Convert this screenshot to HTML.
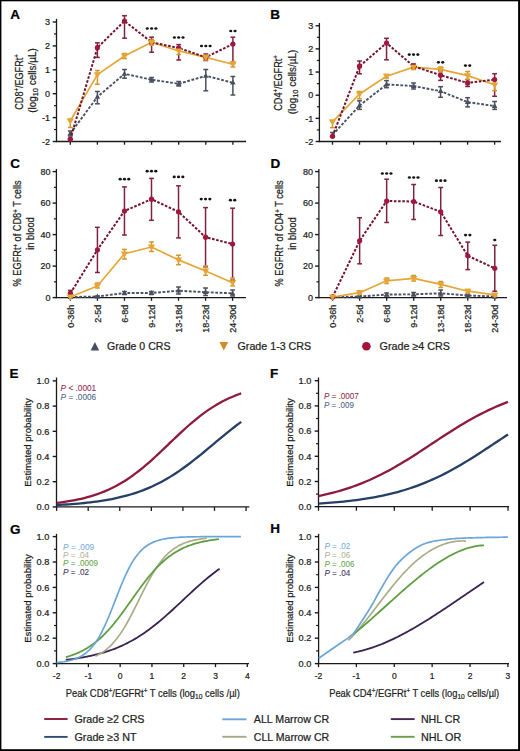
<!DOCTYPE html>
<html><head><meta charset="utf-8"><style>
html,body{margin:0;padding:0;background:#fff;width:520px;height:751px;overflow:hidden}
svg{display:block;font-family:"Liberation Sans",sans-serif}
text{stroke:currentColor;stroke-width:0.22px;paint-order:stroke}
</style></head><body>
<svg width="520" height="751" viewBox="0 0 520 751" font-family="Liberation Sans, sans-serif"><rect x="0" y="0" width="520" height="1.3" fill="#000"/><rect x="0" y="0" width="1.4" height="751" fill="#000"/><rect x="518.1" y="0" width="1.9" height="751" fill="#000"/><rect x="0" y="749.2" width="520" height="1.8" fill="#000"/>
<text x="10.30" y="18.80" font-size="13.5" text-anchor="start" fill="#000" color="#000" font-weight="bold">A</text>
<text x="270.30" y="18.80" font-size="13.5" text-anchor="start" fill="#000" color="#000" font-weight="bold">B</text>
<text x="10.30" y="168.00" font-size="13.5" text-anchor="start" fill="#000" color="#000" font-weight="bold">C</text>
<text x="270.60" y="167.60" font-size="13.5" text-anchor="start" fill="#000" color="#000" font-weight="bold">D</text>
<text x="9.40" y="377.60" font-size="13.5" text-anchor="start" fill="#000" color="#000" font-weight="bold">E</text>
<text x="270.00" y="377.60" font-size="13.5" text-anchor="start" fill="#000" color="#000" font-weight="bold">F</text>
<text x="10.00" y="533.60" font-size="13.5" text-anchor="start" fill="#000" color="#000" font-weight="bold">G</text>
<text x="270.30" y="533.40" font-size="13.5" text-anchor="start" fill="#000" color="#000" font-weight="bold">H</text>
<line x1="56.50" y1="18.80" x2="56.50" y2="142.10" stroke="#1a1a1a" stroke-width="1.3"/>
<line x1="55.90" y1="141.50" x2="246.00" y2="141.50" stroke="#1a1a1a" stroke-width="1.3"/>
<line x1="52.70" y1="141.50" x2="56.50" y2="141.50" stroke="#1a1a1a" stroke-width="1.4"/>
<line x1="52.70" y1="117.60" x2="56.50" y2="117.60" stroke="#1a1a1a" stroke-width="1.4"/>
<line x1="52.70" y1="93.70" x2="56.50" y2="93.70" stroke="#1a1a1a" stroke-width="1.4"/>
<line x1="52.70" y1="69.80" x2="56.50" y2="69.80" stroke="#1a1a1a" stroke-width="1.4"/>
<line x1="52.70" y1="45.90" x2="56.50" y2="45.90" stroke="#1a1a1a" stroke-width="1.4"/>
<line x1="52.70" y1="22.00" x2="56.50" y2="22.00" stroke="#1a1a1a" stroke-width="1.4"/>
<line x1="54.00" y1="129.55" x2="56.50" y2="129.55" stroke="#1a1a1a" stroke-width="1.2"/>
<line x1="54.00" y1="105.65" x2="56.50" y2="105.65" stroke="#1a1a1a" stroke-width="1.2"/>
<line x1="54.00" y1="81.75" x2="56.50" y2="81.75" stroke="#1a1a1a" stroke-width="1.2"/>
<line x1="54.00" y1="57.85" x2="56.50" y2="57.85" stroke="#1a1a1a" stroke-width="1.2"/>
<line x1="54.00" y1="33.95" x2="56.50" y2="33.95" stroke="#1a1a1a" stroke-width="1.2"/>
<line x1="70.30" y1="141.50" x2="70.30" y2="144.70" stroke="#1a1a1a" stroke-width="1.3"/>
<line x1="97.40" y1="141.50" x2="97.40" y2="144.70" stroke="#1a1a1a" stroke-width="1.3"/>
<line x1="124.50" y1="141.50" x2="124.50" y2="144.70" stroke="#1a1a1a" stroke-width="1.3"/>
<line x1="151.60" y1="141.50" x2="151.60" y2="144.70" stroke="#1a1a1a" stroke-width="1.3"/>
<line x1="178.70" y1="141.50" x2="178.70" y2="144.70" stroke="#1a1a1a" stroke-width="1.3"/>
<line x1="205.80" y1="141.50" x2="205.80" y2="144.70" stroke="#1a1a1a" stroke-width="1.3"/>
<line x1="232.90" y1="141.50" x2="232.90" y2="144.70" stroke="#1a1a1a" stroke-width="1.3"/>
<text x="50.10" y="144.90" font-size="9" text-anchor="end" fill="#1a1a1a" color="#1a1a1a">-2</text>
<text x="50.10" y="121.00" font-size="9" text-anchor="end" fill="#1a1a1a" color="#1a1a1a">-1</text>
<text x="50.10" y="97.10" font-size="9" text-anchor="end" fill="#1a1a1a" color="#1a1a1a">0</text>
<text x="50.10" y="73.20" font-size="9" text-anchor="end" fill="#1a1a1a" color="#1a1a1a">1</text>
<text x="50.10" y="49.30" font-size="9" text-anchor="end" fill="#1a1a1a" color="#1a1a1a">2</text>
<text x="50.10" y="25.40" font-size="9" text-anchor="end" fill="#1a1a1a" color="#1a1a1a">3</text>
<text x="22.50" y="82.00" font-size="10" text-anchor="middle" fill="#1a1a1a" color="#1a1a1a" textLength="55.5" lengthAdjust="spacingAndGlyphs" transform="rotate(-90 22.50 82.00)">CD8<tspan dy="-3.5" font-size="6.5">+</tspan><tspan dy="3.5">/EGFRt</tspan><tspan dy="-3.5" font-size="6.5">+</tspan></text>
<text x="35.90" y="80.50" font-size="10" text-anchor="middle" fill="#1a1a1a" color="#1a1a1a" textLength="64.5" lengthAdjust="spacingAndGlyphs" transform="rotate(-90 35.90 80.50)">(log<tspan dy="2.5" font-size="7.5">10</tspan><tspan dy="-2.5"> cells/µL)</tspan></text>
<line x1="70.30" y1="131.00" x2="70.30" y2="136.00" stroke="#4a4f5e" stroke-width="1.5"/>
<line x1="67.90" y1="131.00" x2="72.70" y2="131.00" stroke="#4a4f5e" stroke-width="1.5"/>
<line x1="67.90" y1="136.00" x2="72.70" y2="136.00" stroke="#4a4f5e" stroke-width="1.5"/>
<line x1="97.40" y1="91.50" x2="97.40" y2="103.80" stroke="#4a4f5e" stroke-width="1.5"/>
<line x1="95.00" y1="91.50" x2="99.80" y2="91.50" stroke="#4a4f5e" stroke-width="1.5"/>
<line x1="95.00" y1="103.80" x2="99.80" y2="103.80" stroke="#4a4f5e" stroke-width="1.5"/>
<line x1="124.50" y1="69.50" x2="124.50" y2="78.20" stroke="#4a4f5e" stroke-width="1.5"/>
<line x1="122.10" y1="69.50" x2="126.90" y2="69.50" stroke="#4a4f5e" stroke-width="1.5"/>
<line x1="122.10" y1="78.20" x2="126.90" y2="78.20" stroke="#4a4f5e" stroke-width="1.5"/>
<line x1="151.60" y1="77.50" x2="151.60" y2="82.00" stroke="#4a4f5e" stroke-width="1.5"/>
<line x1="149.20" y1="77.50" x2="154.00" y2="77.50" stroke="#4a4f5e" stroke-width="1.5"/>
<line x1="149.20" y1="82.00" x2="154.00" y2="82.00" stroke="#4a4f5e" stroke-width="1.5"/>
<line x1="178.70" y1="81.50" x2="178.70" y2="86.00" stroke="#4a4f5e" stroke-width="1.5"/>
<line x1="176.30" y1="81.50" x2="181.10" y2="81.50" stroke="#4a4f5e" stroke-width="1.5"/>
<line x1="176.30" y1="86.00" x2="181.10" y2="86.00" stroke="#4a4f5e" stroke-width="1.5"/>
<line x1="205.80" y1="69.50" x2="205.80" y2="90.80" stroke="#4a4f5e" stroke-width="1.5"/>
<line x1="203.40" y1="69.50" x2="208.20" y2="69.50" stroke="#4a4f5e" stroke-width="1.5"/>
<line x1="203.40" y1="90.80" x2="208.20" y2="90.80" stroke="#4a4f5e" stroke-width="1.5"/>
<line x1="232.90" y1="76.50" x2="232.90" y2="95.00" stroke="#4a4f5e" stroke-width="1.5"/>
<line x1="230.50" y1="76.50" x2="235.30" y2="76.50" stroke="#4a4f5e" stroke-width="1.5"/>
<line x1="230.50" y1="95.00" x2="235.30" y2="95.00" stroke="#4a4f5e" stroke-width="1.5"/>
<polyline points="70.30,133.50 97.40,96.90 124.50,73.80 151.60,79.70 178.70,83.80 205.80,75.80 232.90,82.70" fill="none" stroke="#4b5163" stroke-width="1.9" stroke-dasharray="2.8 1.6" stroke-linejoin="round"/>
<polygon points="67.50,135.42 73.10,135.42 70.30,130.62" fill="#4a4f5e"/>
<polygon points="94.60,98.82 100.20,98.82 97.40,94.02" fill="#4a4f5e"/>
<polygon points="121.70,75.72 127.30,75.72 124.50,70.92" fill="#4a4f5e"/>
<polygon points="148.80,81.62 154.40,81.62 151.60,76.82" fill="#4a4f5e"/>
<polygon points="175.90,85.72 181.50,85.72 178.70,80.92" fill="#4a4f5e"/>
<polygon points="203.00,77.72 208.60,77.72 205.80,72.92" fill="#4a4f5e"/>
<polygon points="230.10,84.62 235.70,84.62 232.90,79.82" fill="#4a4f5e"/>
<line x1="70.30" y1="139.00" x2="70.30" y2="139.20" stroke="#7f2142" stroke-width="1.5"/>
<line x1="67.90" y1="139.00" x2="72.70" y2="139.00" stroke="#7f2142" stroke-width="1.5"/>
<line x1="67.90" y1="139.20" x2="72.70" y2="139.20" stroke="#7f2142" stroke-width="1.5"/>
<line x1="97.40" y1="42.80" x2="97.40" y2="57.40" stroke="#7f2142" stroke-width="1.5"/>
<line x1="95.00" y1="42.80" x2="99.80" y2="42.80" stroke="#7f2142" stroke-width="1.5"/>
<line x1="95.00" y1="57.40" x2="99.80" y2="57.40" stroke="#7f2142" stroke-width="1.5"/>
<line x1="124.50" y1="15.70" x2="124.50" y2="38.20" stroke="#7f2142" stroke-width="1.5"/>
<line x1="122.10" y1="15.70" x2="126.90" y2="15.70" stroke="#7f2142" stroke-width="1.5"/>
<line x1="122.10" y1="38.20" x2="126.90" y2="38.20" stroke="#7f2142" stroke-width="1.5"/>
<line x1="151.60" y1="37.20" x2="151.60" y2="52.20" stroke="#7f2142" stroke-width="1.5"/>
<line x1="149.20" y1="37.20" x2="154.00" y2="37.20" stroke="#7f2142" stroke-width="1.5"/>
<line x1="149.20" y1="52.20" x2="154.00" y2="52.20" stroke="#7f2142" stroke-width="1.5"/>
<line x1="178.70" y1="44.60" x2="178.70" y2="60.00" stroke="#7f2142" stroke-width="1.5"/>
<line x1="176.30" y1="44.60" x2="181.10" y2="44.60" stroke="#7f2142" stroke-width="1.5"/>
<line x1="176.30" y1="60.00" x2="181.10" y2="60.00" stroke="#7f2142" stroke-width="1.5"/>
<line x1="205.80" y1="54.00" x2="205.80" y2="60.50" stroke="#7f2142" stroke-width="1.5"/>
<line x1="203.40" y1="54.00" x2="208.20" y2="54.00" stroke="#7f2142" stroke-width="1.5"/>
<line x1="203.40" y1="60.50" x2="208.20" y2="60.50" stroke="#7f2142" stroke-width="1.5"/>
<line x1="232.90" y1="37.20" x2="232.90" y2="63.50" stroke="#7f2142" stroke-width="1.5"/>
<line x1="230.50" y1="37.20" x2="235.30" y2="37.20" stroke="#7f2142" stroke-width="1.5"/>
<line x1="230.50" y1="63.50" x2="235.30" y2="63.50" stroke="#7f2142" stroke-width="1.5"/>
<line x1="70.30" y1="119.20" x2="70.30" y2="127.50" stroke="#d0962e" stroke-width="1.5"/>
<line x1="67.90" y1="119.20" x2="72.70" y2="119.20" stroke="#d0962e" stroke-width="1.5"/>
<line x1="67.90" y1="127.50" x2="72.70" y2="127.50" stroke="#d0962e" stroke-width="1.5"/>
<line x1="97.40" y1="70.50" x2="97.40" y2="84.30" stroke="#d0962e" stroke-width="1.5"/>
<line x1="95.00" y1="70.50" x2="99.80" y2="70.50" stroke="#d0962e" stroke-width="1.5"/>
<line x1="95.00" y1="84.30" x2="99.80" y2="84.30" stroke="#d0962e" stroke-width="1.5"/>
<line x1="124.50" y1="53.50" x2="124.50" y2="58.50" stroke="#d0962e" stroke-width="1.5"/>
<line x1="122.10" y1="53.50" x2="126.90" y2="53.50" stroke="#d0962e" stroke-width="1.5"/>
<line x1="122.10" y1="58.50" x2="126.90" y2="58.50" stroke="#d0962e" stroke-width="1.5"/>
<line x1="151.60" y1="39.50" x2="151.60" y2="45.00" stroke="#d0962e" stroke-width="1.5"/>
<line x1="149.20" y1="39.50" x2="154.00" y2="39.50" stroke="#d0962e" stroke-width="1.5"/>
<line x1="149.20" y1="45.00" x2="154.00" y2="45.00" stroke="#d0962e" stroke-width="1.5"/>
<line x1="178.70" y1="47.50" x2="178.70" y2="54.50" stroke="#d0962e" stroke-width="1.5"/>
<line x1="176.30" y1="47.50" x2="181.10" y2="47.50" stroke="#d0962e" stroke-width="1.5"/>
<line x1="176.30" y1="54.50" x2="181.10" y2="54.50" stroke="#d0962e" stroke-width="1.5"/>
<line x1="205.80" y1="55.00" x2="205.80" y2="60.00" stroke="#d0962e" stroke-width="1.5"/>
<line x1="203.40" y1="55.00" x2="208.20" y2="55.00" stroke="#d0962e" stroke-width="1.5"/>
<line x1="203.40" y1="60.00" x2="208.20" y2="60.00" stroke="#d0962e" stroke-width="1.5"/>
<line x1="232.90" y1="61.50" x2="232.90" y2="67.00" stroke="#d0962e" stroke-width="1.5"/>
<line x1="230.50" y1="61.50" x2="235.30" y2="61.50" stroke="#d0962e" stroke-width="1.5"/>
<line x1="230.50" y1="67.00" x2="235.30" y2="67.00" stroke="#d0962e" stroke-width="1.5"/>
<polyline points="70.30,120.80 97.40,74.60 124.50,56.00 151.60,42.30 178.70,51.00 205.80,57.30 232.90,64.20" fill="none" stroke="#e6a636" stroke-width="1.7" stroke-linejoin="round"/>
<polyline points="70.30,139.20 97.40,47.70 124.50,21.00 151.60,42.30 178.70,48.00 205.80,57.30 232.90,44.00" fill="none" stroke="#741232" stroke-width="2.0" stroke-dasharray="2.6 1.6" stroke-linejoin="round"/>
<circle cx="70.30" cy="139.20" r="2.60" fill="#a0163c"/>
<circle cx="97.40" cy="47.70" r="2.60" fill="#a0163c"/>
<circle cx="124.50" cy="21.00" r="2.60" fill="#a0163c"/>
<circle cx="151.60" cy="42.30" r="2.60" fill="#a0163c"/>
<circle cx="178.70" cy="48.00" r="2.60" fill="#a0163c"/>
<circle cx="205.80" cy="57.30" r="2.60" fill="#a0163c"/>
<circle cx="232.90" cy="44.00" r="2.60" fill="#a0163c"/>
<polygon points="66.60,118.40 74.00,118.40 70.30,124.40" fill="#e6a636"/>
<polygon points="93.70,72.20 101.10,72.20 97.40,78.20" fill="#e6a636"/>
<polygon points="120.80,53.60 128.20,53.60 124.50,59.60" fill="#e6a636"/>
<polygon points="147.90,39.90 155.30,39.90 151.60,45.90" fill="#e6a636"/>
<polygon points="175.00,48.60 182.40,48.60 178.70,54.60" fill="#e6a636"/>
<polygon points="202.10,54.90 209.50,54.90 205.80,60.90" fill="#e6a636"/>
<polygon points="229.20,61.80 236.60,61.80 232.90,67.80" fill="#e6a636"/>
<ellipse cx="147.30" cy="28.50" rx="1.6" ry="1.35" fill="#141414"/>
<ellipse cx="151.60" cy="28.50" rx="1.6" ry="1.35" fill="#141414"/>
<ellipse cx="155.90" cy="28.50" rx="1.6" ry="1.35" fill="#141414"/>
<ellipse cx="174.40" cy="37.50" rx="1.6" ry="1.35" fill="#141414"/>
<ellipse cx="178.70" cy="37.50" rx="1.6" ry="1.35" fill="#141414"/>
<ellipse cx="183.00" cy="37.50" rx="1.6" ry="1.35" fill="#141414"/>
<ellipse cx="201.50" cy="46.00" rx="1.6" ry="1.35" fill="#141414"/>
<ellipse cx="205.80" cy="46.00" rx="1.6" ry="1.35" fill="#141414"/>
<ellipse cx="210.10" cy="46.00" rx="1.6" ry="1.35" fill="#141414"/>
<ellipse cx="230.75" cy="31.00" rx="1.6" ry="1.35" fill="#141414"/>
<ellipse cx="235.05" cy="31.00" rx="1.6" ry="1.35" fill="#141414"/>
<line x1="319.40" y1="23.00" x2="319.40" y2="142.10" stroke="#1a1a1a" stroke-width="1.3"/>
<line x1="318.80" y1="141.50" x2="501.00" y2="141.50" stroke="#1a1a1a" stroke-width="1.3"/>
<line x1="315.60" y1="141.50" x2="319.40" y2="141.50" stroke="#1a1a1a" stroke-width="1.4"/>
<line x1="315.60" y1="118.35" x2="319.40" y2="118.35" stroke="#1a1a1a" stroke-width="1.4"/>
<line x1="315.60" y1="95.20" x2="319.40" y2="95.20" stroke="#1a1a1a" stroke-width="1.4"/>
<line x1="315.60" y1="72.05" x2="319.40" y2="72.05" stroke="#1a1a1a" stroke-width="1.4"/>
<line x1="315.60" y1="48.90" x2="319.40" y2="48.90" stroke="#1a1a1a" stroke-width="1.4"/>
<line x1="315.60" y1="25.75" x2="319.40" y2="25.75" stroke="#1a1a1a" stroke-width="1.4"/>
<line x1="316.90" y1="129.93" x2="319.40" y2="129.93" stroke="#1a1a1a" stroke-width="1.2"/>
<line x1="316.90" y1="106.78" x2="319.40" y2="106.78" stroke="#1a1a1a" stroke-width="1.2"/>
<line x1="316.90" y1="83.62" x2="319.40" y2="83.62" stroke="#1a1a1a" stroke-width="1.2"/>
<line x1="316.90" y1="60.48" x2="319.40" y2="60.48" stroke="#1a1a1a" stroke-width="1.2"/>
<line x1="316.90" y1="37.33" x2="319.40" y2="37.33" stroke="#1a1a1a" stroke-width="1.2"/>
<line x1="332.50" y1="141.50" x2="332.50" y2="144.70" stroke="#1a1a1a" stroke-width="1.3"/>
<line x1="359.52" y1="141.50" x2="359.52" y2="144.70" stroke="#1a1a1a" stroke-width="1.3"/>
<line x1="386.54" y1="141.50" x2="386.54" y2="144.70" stroke="#1a1a1a" stroke-width="1.3"/>
<line x1="413.56" y1="141.50" x2="413.56" y2="144.70" stroke="#1a1a1a" stroke-width="1.3"/>
<line x1="440.58" y1="141.50" x2="440.58" y2="144.70" stroke="#1a1a1a" stroke-width="1.3"/>
<line x1="467.60" y1="141.50" x2="467.60" y2="144.70" stroke="#1a1a1a" stroke-width="1.3"/>
<line x1="494.62" y1="141.50" x2="494.62" y2="144.70" stroke="#1a1a1a" stroke-width="1.3"/>
<text x="313.30" y="144.70" font-size="9" text-anchor="end" fill="#1a1a1a" color="#1a1a1a">-2</text>
<text x="313.30" y="121.55" font-size="9" text-anchor="end" fill="#1a1a1a" color="#1a1a1a">-1</text>
<text x="313.30" y="98.40" font-size="9" text-anchor="end" fill="#1a1a1a" color="#1a1a1a">0</text>
<text x="313.30" y="75.25" font-size="9" text-anchor="end" fill="#1a1a1a" color="#1a1a1a">1</text>
<text x="313.30" y="52.10" font-size="9" text-anchor="end" fill="#1a1a1a" color="#1a1a1a">2</text>
<text x="313.30" y="28.95" font-size="9" text-anchor="end" fill="#1a1a1a" color="#1a1a1a">3</text>
<text x="281.80" y="83.00" font-size="10" text-anchor="middle" fill="#1a1a1a" color="#1a1a1a" textLength="55.5" lengthAdjust="spacingAndGlyphs" transform="rotate(-90 281.80 83.00)">CD4<tspan dy="-3.5" font-size="6.5">+</tspan><tspan dy="3.5">/EGFRt</tspan><tspan dy="-3.5" font-size="6.5">+</tspan></text>
<text x="295.50" y="82.00" font-size="10" text-anchor="middle" fill="#1a1a1a" color="#1a1a1a" textLength="64.5" lengthAdjust="spacingAndGlyphs" transform="rotate(-90 295.50 82.00)">(log<tspan dy="2.5" font-size="7.5">10</tspan><tspan dy="-2.5"> cells/µL)</tspan></text>
<line x1="332.50" y1="132.50" x2="332.50" y2="137.00" stroke="#4a4f5e" stroke-width="1.5"/>
<line x1="330.10" y1="132.50" x2="334.90" y2="132.50" stroke="#4a4f5e" stroke-width="1.5"/>
<line x1="330.10" y1="137.00" x2="334.90" y2="137.00" stroke="#4a4f5e" stroke-width="1.5"/>
<line x1="359.52" y1="100.80" x2="359.52" y2="109.40" stroke="#4a4f5e" stroke-width="1.5"/>
<line x1="357.12" y1="100.80" x2="361.92" y2="100.80" stroke="#4a4f5e" stroke-width="1.5"/>
<line x1="357.12" y1="109.40" x2="361.92" y2="109.40" stroke="#4a4f5e" stroke-width="1.5"/>
<line x1="386.54" y1="80.60" x2="386.54" y2="87.70" stroke="#4a4f5e" stroke-width="1.5"/>
<line x1="384.14" y1="80.60" x2="388.94" y2="80.60" stroke="#4a4f5e" stroke-width="1.5"/>
<line x1="384.14" y1="87.70" x2="388.94" y2="87.70" stroke="#4a4f5e" stroke-width="1.5"/>
<line x1="413.56" y1="83.00" x2="413.56" y2="89.00" stroke="#4a4f5e" stroke-width="1.5"/>
<line x1="411.16" y1="83.00" x2="415.96" y2="83.00" stroke="#4a4f5e" stroke-width="1.5"/>
<line x1="411.16" y1="89.00" x2="415.96" y2="89.00" stroke="#4a4f5e" stroke-width="1.5"/>
<line x1="440.58" y1="86.70" x2="440.58" y2="97.30" stroke="#4a4f5e" stroke-width="1.5"/>
<line x1="438.18" y1="86.70" x2="442.98" y2="86.70" stroke="#4a4f5e" stroke-width="1.5"/>
<line x1="438.18" y1="97.30" x2="442.98" y2="97.30" stroke="#4a4f5e" stroke-width="1.5"/>
<line x1="467.60" y1="97.70" x2="467.60" y2="106.90" stroke="#4a4f5e" stroke-width="1.5"/>
<line x1="465.20" y1="97.70" x2="470.00" y2="97.70" stroke="#4a4f5e" stroke-width="1.5"/>
<line x1="465.20" y1="106.90" x2="470.00" y2="106.90" stroke="#4a4f5e" stroke-width="1.5"/>
<line x1="494.62" y1="101.50" x2="494.62" y2="109.40" stroke="#4a4f5e" stroke-width="1.5"/>
<line x1="492.22" y1="101.50" x2="497.02" y2="101.50" stroke="#4a4f5e" stroke-width="1.5"/>
<line x1="492.22" y1="109.40" x2="497.02" y2="109.40" stroke="#4a4f5e" stroke-width="1.5"/>
<polyline points="332.50,134.80 359.52,105.60 386.54,84.40 413.56,86.00 440.58,91.20 467.60,102.10 494.62,106.00" fill="none" stroke="#4b5163" stroke-width="1.9" stroke-dasharray="2.8 1.6" stroke-linejoin="round"/>
<polygon points="329.70,136.72 335.30,136.72 332.50,131.92" fill="#4a4f5e"/>
<polygon points="356.72,107.52 362.32,107.52 359.52,102.72" fill="#4a4f5e"/>
<polygon points="383.74,86.32 389.34,86.32 386.54,81.52" fill="#4a4f5e"/>
<polygon points="410.76,87.92 416.36,87.92 413.56,83.12" fill="#4a4f5e"/>
<polygon points="437.78,93.12 443.38,93.12 440.58,88.32" fill="#4a4f5e"/>
<polygon points="464.80,104.02 470.40,104.02 467.60,99.22" fill="#4a4f5e"/>
<polygon points="491.82,107.92 497.42,107.92 494.62,103.12" fill="#4a4f5e"/>
<line x1="332.50" y1="136.00" x2="332.50" y2="136.30" stroke="#7f2142" stroke-width="1.5"/>
<line x1="330.10" y1="136.00" x2="334.90" y2="136.00" stroke="#7f2142" stroke-width="1.5"/>
<line x1="330.10" y1="136.30" x2="334.90" y2="136.30" stroke="#7f2142" stroke-width="1.5"/>
<line x1="359.52" y1="61.00" x2="359.52" y2="73.80" stroke="#7f2142" stroke-width="1.5"/>
<line x1="357.12" y1="61.00" x2="361.92" y2="61.00" stroke="#7f2142" stroke-width="1.5"/>
<line x1="357.12" y1="73.80" x2="361.92" y2="73.80" stroke="#7f2142" stroke-width="1.5"/>
<line x1="386.54" y1="38.30" x2="386.54" y2="59.80" stroke="#7f2142" stroke-width="1.5"/>
<line x1="384.14" y1="38.30" x2="388.94" y2="38.30" stroke="#7f2142" stroke-width="1.5"/>
<line x1="384.14" y1="59.80" x2="388.94" y2="59.80" stroke="#7f2142" stroke-width="1.5"/>
<line x1="413.56" y1="64.00" x2="413.56" y2="68.50" stroke="#7f2142" stroke-width="1.5"/>
<line x1="411.16" y1="64.00" x2="415.96" y2="64.00" stroke="#7f2142" stroke-width="1.5"/>
<line x1="411.16" y1="68.50" x2="415.96" y2="68.50" stroke="#7f2142" stroke-width="1.5"/>
<line x1="440.58" y1="70.80" x2="440.58" y2="80.40" stroke="#7f2142" stroke-width="1.5"/>
<line x1="438.18" y1="70.80" x2="442.98" y2="70.80" stroke="#7f2142" stroke-width="1.5"/>
<line x1="438.18" y1="80.40" x2="442.98" y2="80.40" stroke="#7f2142" stroke-width="1.5"/>
<line x1="467.60" y1="79.50" x2="467.60" y2="86.50" stroke="#7f2142" stroke-width="1.5"/>
<line x1="465.20" y1="79.50" x2="470.00" y2="79.50" stroke="#7f2142" stroke-width="1.5"/>
<line x1="465.20" y1="86.50" x2="470.00" y2="86.50" stroke="#7f2142" stroke-width="1.5"/>
<line x1="494.62" y1="73.70" x2="494.62" y2="96.30" stroke="#7f2142" stroke-width="1.5"/>
<line x1="492.22" y1="73.70" x2="497.02" y2="73.70" stroke="#7f2142" stroke-width="1.5"/>
<line x1="492.22" y1="96.30" x2="497.02" y2="96.30" stroke="#7f2142" stroke-width="1.5"/>
<line x1="332.50" y1="120.40" x2="332.50" y2="127.70" stroke="#d0962e" stroke-width="1.5"/>
<line x1="330.10" y1="120.40" x2="334.90" y2="120.40" stroke="#d0962e" stroke-width="1.5"/>
<line x1="330.10" y1="127.70" x2="334.90" y2="127.70" stroke="#d0962e" stroke-width="1.5"/>
<line x1="359.52" y1="91.50" x2="359.52" y2="98.80" stroke="#d0962e" stroke-width="1.5"/>
<line x1="357.12" y1="91.50" x2="361.92" y2="91.50" stroke="#d0962e" stroke-width="1.5"/>
<line x1="357.12" y1="98.80" x2="361.92" y2="98.80" stroke="#d0962e" stroke-width="1.5"/>
<line x1="386.54" y1="74.50" x2="386.54" y2="78.00" stroke="#d0962e" stroke-width="1.5"/>
<line x1="384.14" y1="74.50" x2="388.94" y2="74.50" stroke="#d0962e" stroke-width="1.5"/>
<line x1="384.14" y1="78.00" x2="388.94" y2="78.00" stroke="#d0962e" stroke-width="1.5"/>
<line x1="413.56" y1="65.00" x2="413.56" y2="69.50" stroke="#d0962e" stroke-width="1.5"/>
<line x1="411.16" y1="65.00" x2="415.96" y2="65.00" stroke="#d0962e" stroke-width="1.5"/>
<line x1="411.16" y1="69.50" x2="415.96" y2="69.50" stroke="#d0962e" stroke-width="1.5"/>
<line x1="440.58" y1="67.00" x2="440.58" y2="72.00" stroke="#d0962e" stroke-width="1.5"/>
<line x1="438.18" y1="67.00" x2="442.98" y2="67.00" stroke="#d0962e" stroke-width="1.5"/>
<line x1="438.18" y1="72.00" x2="442.98" y2="72.00" stroke="#d0962e" stroke-width="1.5"/>
<line x1="467.60" y1="71.50" x2="467.60" y2="79.50" stroke="#d0962e" stroke-width="1.5"/>
<line x1="465.20" y1="71.50" x2="470.00" y2="71.50" stroke="#d0962e" stroke-width="1.5"/>
<line x1="465.20" y1="79.50" x2="470.00" y2="79.50" stroke="#d0962e" stroke-width="1.5"/>
<line x1="494.62" y1="80.00" x2="494.62" y2="90.60" stroke="#d0962e" stroke-width="1.5"/>
<line x1="492.22" y1="80.00" x2="497.02" y2="80.00" stroke="#d0962e" stroke-width="1.5"/>
<line x1="492.22" y1="90.60" x2="497.02" y2="90.60" stroke="#d0962e" stroke-width="1.5"/>
<polyline points="332.50,121.90 359.52,94.00 386.54,76.20 413.56,67.10 440.58,69.40 467.60,75.60 494.62,84.80" fill="none" stroke="#e6a636" stroke-width="1.7" stroke-linejoin="round"/>
<polyline points="332.50,136.30 359.52,66.20 386.54,43.00 413.56,66.20 440.58,75.20 467.60,82.90 494.62,79.60" fill="none" stroke="#741232" stroke-width="2.0" stroke-dasharray="2.6 1.6" stroke-linejoin="round"/>
<circle cx="332.50" cy="136.30" r="2.60" fill="#a0163c"/>
<circle cx="359.52" cy="66.20" r="2.60" fill="#a0163c"/>
<circle cx="386.54" cy="43.00" r="2.60" fill="#a0163c"/>
<circle cx="413.56" cy="66.20" r="2.60" fill="#a0163c"/>
<circle cx="440.58" cy="75.20" r="2.60" fill="#a0163c"/>
<circle cx="467.60" cy="82.90" r="2.60" fill="#a0163c"/>
<circle cx="494.62" cy="79.60" r="2.60" fill="#a0163c"/>
<polygon points="328.80,119.50 336.20,119.50 332.50,125.50" fill="#e6a636"/>
<polygon points="355.82,91.60 363.22,91.60 359.52,97.60" fill="#e6a636"/>
<polygon points="382.84,73.80 390.24,73.80 386.54,79.80" fill="#e6a636"/>
<polygon points="409.86,64.70 417.26,64.70 413.56,70.70" fill="#e6a636"/>
<polygon points="436.88,67.00 444.28,67.00 440.58,73.00" fill="#e6a636"/>
<polygon points="463.90,73.20 471.30,73.20 467.60,79.20" fill="#e6a636"/>
<polygon points="490.92,82.40 498.32,82.40 494.62,88.40" fill="#e6a636"/>
<ellipse cx="409.26" cy="54.60" rx="1.6" ry="1.35" fill="#141414"/>
<ellipse cx="413.56" cy="54.60" rx="1.6" ry="1.35" fill="#141414"/>
<ellipse cx="417.86" cy="54.60" rx="1.6" ry="1.35" fill="#141414"/>
<ellipse cx="438.43" cy="62.30" rx="1.6" ry="1.35" fill="#141414"/>
<ellipse cx="442.73" cy="62.30" rx="1.6" ry="1.35" fill="#141414"/>
<ellipse cx="465.45" cy="65.60" rx="1.6" ry="1.35" fill="#141414"/>
<ellipse cx="469.75" cy="65.60" rx="1.6" ry="1.35" fill="#141414"/>
<line x1="56.40" y1="169.00" x2="56.40" y2="298.20" stroke="#1a1a1a" stroke-width="1.3"/>
<line x1="55.80" y1="297.60" x2="246.00" y2="297.60" stroke="#1a1a1a" stroke-width="1.3"/>
<line x1="52.60" y1="297.60" x2="56.40" y2="297.60" stroke="#1a1a1a" stroke-width="1.4"/>
<line x1="52.60" y1="266.10" x2="56.40" y2="266.10" stroke="#1a1a1a" stroke-width="1.4"/>
<line x1="52.60" y1="234.60" x2="56.40" y2="234.60" stroke="#1a1a1a" stroke-width="1.4"/>
<line x1="52.60" y1="203.10" x2="56.40" y2="203.10" stroke="#1a1a1a" stroke-width="1.4"/>
<line x1="52.60" y1="171.60" x2="56.40" y2="171.60" stroke="#1a1a1a" stroke-width="1.4"/>
<line x1="53.90" y1="281.85" x2="56.40" y2="281.85" stroke="#1a1a1a" stroke-width="1.2"/>
<line x1="53.90" y1="250.35" x2="56.40" y2="250.35" stroke="#1a1a1a" stroke-width="1.2"/>
<line x1="53.90" y1="218.85" x2="56.40" y2="218.85" stroke="#1a1a1a" stroke-width="1.2"/>
<line x1="53.90" y1="187.35" x2="56.40" y2="187.35" stroke="#1a1a1a" stroke-width="1.2"/>
<line x1="70.40" y1="297.60" x2="70.40" y2="300.80" stroke="#1a1a1a" stroke-width="1.3"/>
<line x1="97.43" y1="297.60" x2="97.43" y2="300.80" stroke="#1a1a1a" stroke-width="1.3"/>
<line x1="124.46" y1="297.60" x2="124.46" y2="300.80" stroke="#1a1a1a" stroke-width="1.3"/>
<line x1="151.49" y1="297.60" x2="151.49" y2="300.80" stroke="#1a1a1a" stroke-width="1.3"/>
<line x1="178.52" y1="297.60" x2="178.52" y2="300.80" stroke="#1a1a1a" stroke-width="1.3"/>
<line x1="205.55" y1="297.60" x2="205.55" y2="300.80" stroke="#1a1a1a" stroke-width="1.3"/>
<line x1="232.58" y1="297.60" x2="232.58" y2="300.80" stroke="#1a1a1a" stroke-width="1.3"/>
<text x="50.40" y="300.80" font-size="9" text-anchor="end" fill="#1a1a1a" color="#1a1a1a">0</text>
<text x="50.40" y="269.30" font-size="9" text-anchor="end" fill="#1a1a1a" color="#1a1a1a">20</text>
<text x="50.40" y="237.80" font-size="9" text-anchor="end" fill="#1a1a1a" color="#1a1a1a">40</text>
<text x="50.40" y="206.30" font-size="9" text-anchor="end" fill="#1a1a1a" color="#1a1a1a">60</text>
<text x="50.40" y="174.80" font-size="9" text-anchor="end" fill="#1a1a1a" color="#1a1a1a">80</text>
<text x="21.20" y="233.40" font-size="10" text-anchor="middle" fill="#1a1a1a" color="#1a1a1a" textLength="106" lengthAdjust="spacingAndGlyphs" transform="rotate(-90 21.20 233.40)">% EGFRt<tspan dy="-3.5" font-size="6.5">+</tspan><tspan dy="3.5"> of CD8</tspan><tspan dy="-3.5" font-size="6.5">+</tspan><tspan dy="3.5"> T cells</tspan></text>
<text x="33.80" y="233.50" font-size="10" text-anchor="middle" fill="#1a1a1a" color="#1a1a1a" textLength="32.5" lengthAdjust="spacingAndGlyphs" transform="rotate(-90 33.80 233.50)">in blood</text>
<line x1="70.40" y1="297.00" x2="70.40" y2="297.00" stroke="#4a4f5e" stroke-width="1.5"/>
<line x1="68.00" y1="297.00" x2="72.80" y2="297.00" stroke="#4a4f5e" stroke-width="1.5"/>
<line x1="68.00" y1="297.00" x2="72.80" y2="297.00" stroke="#4a4f5e" stroke-width="1.5"/>
<line x1="97.43" y1="296.00" x2="97.43" y2="297.00" stroke="#4a4f5e" stroke-width="1.5"/>
<line x1="95.03" y1="296.00" x2="99.83" y2="296.00" stroke="#4a4f5e" stroke-width="1.5"/>
<line x1="95.03" y1="297.00" x2="99.83" y2="297.00" stroke="#4a4f5e" stroke-width="1.5"/>
<line x1="124.46" y1="291.50" x2="124.46" y2="294.50" stroke="#4a4f5e" stroke-width="1.5"/>
<line x1="122.06" y1="291.50" x2="126.86" y2="291.50" stroke="#4a4f5e" stroke-width="1.5"/>
<line x1="122.06" y1="294.50" x2="126.86" y2="294.50" stroke="#4a4f5e" stroke-width="1.5"/>
<line x1="151.49" y1="291.50" x2="151.49" y2="294.50" stroke="#4a4f5e" stroke-width="1.5"/>
<line x1="149.09" y1="291.50" x2="153.89" y2="291.50" stroke="#4a4f5e" stroke-width="1.5"/>
<line x1="149.09" y1="294.50" x2="153.89" y2="294.50" stroke="#4a4f5e" stroke-width="1.5"/>
<line x1="178.52" y1="287.00" x2="178.52" y2="294.00" stroke="#4a4f5e" stroke-width="1.5"/>
<line x1="176.12" y1="287.00" x2="180.92" y2="287.00" stroke="#4a4f5e" stroke-width="1.5"/>
<line x1="176.12" y1="294.00" x2="180.92" y2="294.00" stroke="#4a4f5e" stroke-width="1.5"/>
<line x1="205.55" y1="288.00" x2="205.55" y2="295.50" stroke="#4a4f5e" stroke-width="1.5"/>
<line x1="203.15" y1="288.00" x2="207.95" y2="288.00" stroke="#4a4f5e" stroke-width="1.5"/>
<line x1="203.15" y1="295.50" x2="207.95" y2="295.50" stroke="#4a4f5e" stroke-width="1.5"/>
<line x1="232.58" y1="290.00" x2="232.58" y2="296.00" stroke="#4a4f5e" stroke-width="1.5"/>
<line x1="230.18" y1="290.00" x2="234.98" y2="290.00" stroke="#4a4f5e" stroke-width="1.5"/>
<line x1="230.18" y1="296.00" x2="234.98" y2="296.00" stroke="#4a4f5e" stroke-width="1.5"/>
<polyline points="70.40,297.00 97.43,296.50 124.46,293.00 151.49,293.00 178.52,290.70 205.55,292.20 232.58,293.30" fill="none" stroke="#4b5163" stroke-width="1.9" stroke-dasharray="2.8 1.6" stroke-linejoin="round"/>
<polygon points="67.60,298.92 73.20,298.92 70.40,294.12" fill="#4a4f5e"/>
<polygon points="94.63,298.42 100.23,298.42 97.43,293.62" fill="#4a4f5e"/>
<polygon points="121.66,294.92 127.26,294.92 124.46,290.12" fill="#4a4f5e"/>
<polygon points="148.69,294.92 154.29,294.92 151.49,290.12" fill="#4a4f5e"/>
<polygon points="175.72,292.62 181.32,292.62 178.52,287.82" fill="#4a4f5e"/>
<polygon points="202.75,294.12 208.35,294.12 205.55,289.32" fill="#4a4f5e"/>
<polygon points="229.78,295.22 235.38,295.22 232.58,290.42" fill="#4a4f5e"/>
<line x1="70.40" y1="290.40" x2="70.40" y2="296.00" stroke="#7f2142" stroke-width="1.5"/>
<line x1="68.00" y1="290.40" x2="72.80" y2="290.40" stroke="#7f2142" stroke-width="1.5"/>
<line x1="68.00" y1="296.00" x2="72.80" y2="296.00" stroke="#7f2142" stroke-width="1.5"/>
<line x1="97.43" y1="227.30" x2="97.43" y2="272.50" stroke="#7f2142" stroke-width="1.5"/>
<line x1="95.03" y1="227.30" x2="99.83" y2="227.30" stroke="#7f2142" stroke-width="1.5"/>
<line x1="95.03" y1="272.50" x2="99.83" y2="272.50" stroke="#7f2142" stroke-width="1.5"/>
<line x1="124.46" y1="186.90" x2="124.46" y2="235.00" stroke="#7f2142" stroke-width="1.5"/>
<line x1="122.06" y1="186.90" x2="126.86" y2="186.90" stroke="#7f2142" stroke-width="1.5"/>
<line x1="122.06" y1="235.00" x2="126.86" y2="235.00" stroke="#7f2142" stroke-width="1.5"/>
<line x1="151.49" y1="178.40" x2="151.49" y2="220.30" stroke="#7f2142" stroke-width="1.5"/>
<line x1="149.09" y1="178.40" x2="153.89" y2="178.40" stroke="#7f2142" stroke-width="1.5"/>
<line x1="149.09" y1="220.30" x2="153.89" y2="220.30" stroke="#7f2142" stroke-width="1.5"/>
<line x1="178.52" y1="185.80" x2="178.52" y2="237.90" stroke="#7f2142" stroke-width="1.5"/>
<line x1="176.12" y1="185.80" x2="180.92" y2="185.80" stroke="#7f2142" stroke-width="1.5"/>
<line x1="176.12" y1="237.90" x2="180.92" y2="237.90" stroke="#7f2142" stroke-width="1.5"/>
<line x1="205.55" y1="207.60" x2="205.55" y2="266.80" stroke="#7f2142" stroke-width="1.5"/>
<line x1="203.15" y1="207.60" x2="207.95" y2="207.60" stroke="#7f2142" stroke-width="1.5"/>
<line x1="203.15" y1="266.80" x2="207.95" y2="266.80" stroke="#7f2142" stroke-width="1.5"/>
<line x1="232.58" y1="208.20" x2="232.58" y2="280.20" stroke="#7f2142" stroke-width="1.5"/>
<line x1="230.18" y1="208.20" x2="234.98" y2="208.20" stroke="#7f2142" stroke-width="1.5"/>
<line x1="230.18" y1="280.20" x2="234.98" y2="280.20" stroke="#7f2142" stroke-width="1.5"/>
<line x1="70.40" y1="296.00" x2="70.40" y2="297.00" stroke="#d0962e" stroke-width="1.5"/>
<line x1="68.00" y1="296.00" x2="72.80" y2="296.00" stroke="#d0962e" stroke-width="1.5"/>
<line x1="68.00" y1="297.00" x2="72.80" y2="297.00" stroke="#d0962e" stroke-width="1.5"/>
<line x1="97.43" y1="283.00" x2="97.43" y2="287.90" stroke="#d0962e" stroke-width="1.5"/>
<line x1="95.03" y1="283.00" x2="99.83" y2="283.00" stroke="#d0962e" stroke-width="1.5"/>
<line x1="95.03" y1="287.90" x2="99.83" y2="287.90" stroke="#d0962e" stroke-width="1.5"/>
<line x1="124.46" y1="249.40" x2="124.46" y2="259.00" stroke="#d0962e" stroke-width="1.5"/>
<line x1="122.06" y1="249.40" x2="126.86" y2="249.40" stroke="#d0962e" stroke-width="1.5"/>
<line x1="122.06" y1="259.00" x2="126.86" y2="259.00" stroke="#d0962e" stroke-width="1.5"/>
<line x1="151.49" y1="242.00" x2="151.49" y2="251.50" stroke="#d0962e" stroke-width="1.5"/>
<line x1="149.09" y1="242.00" x2="153.89" y2="242.00" stroke="#d0962e" stroke-width="1.5"/>
<line x1="149.09" y1="251.50" x2="153.89" y2="251.50" stroke="#d0962e" stroke-width="1.5"/>
<line x1="178.52" y1="255.20" x2="178.52" y2="264.70" stroke="#d0962e" stroke-width="1.5"/>
<line x1="176.12" y1="255.20" x2="180.92" y2="255.20" stroke="#d0962e" stroke-width="1.5"/>
<line x1="176.12" y1="264.70" x2="180.92" y2="264.70" stroke="#d0962e" stroke-width="1.5"/>
<line x1="205.55" y1="266.00" x2="205.55" y2="275.30" stroke="#d0962e" stroke-width="1.5"/>
<line x1="203.15" y1="266.00" x2="207.95" y2="266.00" stroke="#d0962e" stroke-width="1.5"/>
<line x1="203.15" y1="275.30" x2="207.95" y2="275.30" stroke="#d0962e" stroke-width="1.5"/>
<line x1="232.58" y1="278.00" x2="232.58" y2="285.90" stroke="#d0962e" stroke-width="1.5"/>
<line x1="230.18" y1="278.00" x2="234.98" y2="278.00" stroke="#d0962e" stroke-width="1.5"/>
<line x1="230.18" y1="285.90" x2="234.98" y2="285.90" stroke="#d0962e" stroke-width="1.5"/>
<polyline points="70.40,297.00 97.43,286.00 124.46,253.80 151.49,247.00 178.52,259.90 205.55,271.00 232.58,282.70" fill="none" stroke="#e6a636" stroke-width="1.7" stroke-linejoin="round"/>
<polyline points="70.40,293.30 97.43,249.80 124.46,211.00 151.49,199.20 178.52,211.80 205.55,237.20 232.58,244.00" fill="none" stroke="#741232" stroke-width="2.0" stroke-dasharray="2.6 1.6" stroke-linejoin="round"/>
<circle cx="70.40" cy="293.30" r="2.60" fill="#a0163c"/>
<circle cx="97.43" cy="249.80" r="2.60" fill="#a0163c"/>
<circle cx="124.46" cy="211.00" r="2.60" fill="#a0163c"/>
<circle cx="151.49" cy="199.20" r="2.60" fill="#a0163c"/>
<circle cx="178.52" cy="211.80" r="2.60" fill="#a0163c"/>
<circle cx="205.55" cy="237.20" r="2.60" fill="#a0163c"/>
<circle cx="232.58" cy="244.00" r="2.60" fill="#a0163c"/>
<polygon points="66.70,294.60 74.10,294.60 70.40,300.60" fill="#e6a636"/>
<polygon points="93.73,283.60 101.13,283.60 97.43,289.60" fill="#e6a636"/>
<polygon points="120.76,251.40 128.16,251.40 124.46,257.40" fill="#e6a636"/>
<polygon points="147.79,244.60 155.19,244.60 151.49,250.60" fill="#e6a636"/>
<polygon points="174.82,257.50 182.22,257.50 178.52,263.50" fill="#e6a636"/>
<polygon points="201.85,268.60 209.25,268.60 205.55,274.60" fill="#e6a636"/>
<polygon points="228.88,280.30 236.28,280.30 232.58,286.30" fill="#e6a636"/>
<ellipse cx="120.16" cy="179.20" rx="1.6" ry="1.35" fill="#141414"/>
<ellipse cx="124.46" cy="179.20" rx="1.6" ry="1.35" fill="#141414"/>
<ellipse cx="128.76" cy="179.20" rx="1.6" ry="1.35" fill="#141414"/>
<ellipse cx="147.19" cy="171.20" rx="1.6" ry="1.35" fill="#141414"/>
<ellipse cx="151.49" cy="171.20" rx="1.6" ry="1.35" fill="#141414"/>
<ellipse cx="155.79" cy="171.20" rx="1.6" ry="1.35" fill="#141414"/>
<ellipse cx="174.22" cy="176.90" rx="1.6" ry="1.35" fill="#141414"/>
<ellipse cx="178.52" cy="176.90" rx="1.6" ry="1.35" fill="#141414"/>
<ellipse cx="182.82" cy="176.90" rx="1.6" ry="1.35" fill="#141414"/>
<ellipse cx="201.25" cy="199.10" rx="1.6" ry="1.35" fill="#141414"/>
<ellipse cx="205.55" cy="199.10" rx="1.6" ry="1.35" fill="#141414"/>
<ellipse cx="209.85" cy="199.10" rx="1.6" ry="1.35" fill="#141414"/>
<ellipse cx="230.43" cy="200.20" rx="1.6" ry="1.35" fill="#141414"/>
<ellipse cx="234.73" cy="200.20" rx="1.6" ry="1.35" fill="#141414"/>
<text x="73.60" y="304.80" font-size="9" text-anchor="end" fill="#1a1a1a" color="#1a1a1a" transform="rotate(-90 73.60 304.80)">0-36h</text>
<text x="100.63" y="304.80" font-size="9" text-anchor="end" fill="#1a1a1a" color="#1a1a1a" transform="rotate(-90 100.63 304.80)">2-5d</text>
<text x="127.66" y="304.80" font-size="9" text-anchor="end" fill="#1a1a1a" color="#1a1a1a" transform="rotate(-90 127.66 304.80)">6-8d</text>
<text x="154.69" y="304.80" font-size="9" text-anchor="end" fill="#1a1a1a" color="#1a1a1a" transform="rotate(-90 154.69 304.80)">9-12d</text>
<text x="181.72" y="304.80" font-size="9" text-anchor="end" fill="#1a1a1a" color="#1a1a1a" transform="rotate(-90 181.72 304.80)">13-18d</text>
<text x="208.75" y="304.80" font-size="9" text-anchor="end" fill="#1a1a1a" color="#1a1a1a" transform="rotate(-90 208.75 304.80)">18-23d</text>
<text x="235.78" y="304.80" font-size="9" text-anchor="end" fill="#1a1a1a" color="#1a1a1a" transform="rotate(-90 235.78 304.80)">24-30d</text>
<line x1="318.90" y1="169.00" x2="318.90" y2="298.20" stroke="#1a1a1a" stroke-width="1.3"/>
<line x1="318.30" y1="297.60" x2="507.00" y2="297.60" stroke="#1a1a1a" stroke-width="1.3"/>
<line x1="315.10" y1="297.60" x2="318.90" y2="297.60" stroke="#1a1a1a" stroke-width="1.4"/>
<line x1="315.10" y1="266.10" x2="318.90" y2="266.10" stroke="#1a1a1a" stroke-width="1.4"/>
<line x1="315.10" y1="234.60" x2="318.90" y2="234.60" stroke="#1a1a1a" stroke-width="1.4"/>
<line x1="315.10" y1="203.10" x2="318.90" y2="203.10" stroke="#1a1a1a" stroke-width="1.4"/>
<line x1="315.10" y1="171.60" x2="318.90" y2="171.60" stroke="#1a1a1a" stroke-width="1.4"/>
<line x1="316.40" y1="281.85" x2="318.90" y2="281.85" stroke="#1a1a1a" stroke-width="1.2"/>
<line x1="316.40" y1="250.35" x2="318.90" y2="250.35" stroke="#1a1a1a" stroke-width="1.2"/>
<line x1="316.40" y1="218.85" x2="318.90" y2="218.85" stroke="#1a1a1a" stroke-width="1.2"/>
<line x1="316.40" y1="187.35" x2="318.90" y2="187.35" stroke="#1a1a1a" stroke-width="1.2"/>
<line x1="332.60" y1="297.60" x2="332.60" y2="300.80" stroke="#1a1a1a" stroke-width="1.3"/>
<line x1="359.63" y1="297.60" x2="359.63" y2="300.80" stroke="#1a1a1a" stroke-width="1.3"/>
<line x1="386.66" y1="297.60" x2="386.66" y2="300.80" stroke="#1a1a1a" stroke-width="1.3"/>
<line x1="413.69" y1="297.60" x2="413.69" y2="300.80" stroke="#1a1a1a" stroke-width="1.3"/>
<line x1="440.72" y1="297.60" x2="440.72" y2="300.80" stroke="#1a1a1a" stroke-width="1.3"/>
<line x1="467.75" y1="297.60" x2="467.75" y2="300.80" stroke="#1a1a1a" stroke-width="1.3"/>
<line x1="494.78" y1="297.60" x2="494.78" y2="300.80" stroke="#1a1a1a" stroke-width="1.3"/>
<text x="313.00" y="300.80" font-size="9" text-anchor="end" fill="#1a1a1a" color="#1a1a1a">0</text>
<text x="313.00" y="269.30" font-size="9" text-anchor="end" fill="#1a1a1a" color="#1a1a1a">20</text>
<text x="313.00" y="237.80" font-size="9" text-anchor="end" fill="#1a1a1a" color="#1a1a1a">40</text>
<text x="313.00" y="206.30" font-size="9" text-anchor="end" fill="#1a1a1a" color="#1a1a1a">60</text>
<text x="313.00" y="174.80" font-size="9" text-anchor="end" fill="#1a1a1a" color="#1a1a1a">80</text>
<text x="283.40" y="233.40" font-size="10" text-anchor="middle" fill="#1a1a1a" color="#1a1a1a" textLength="106" lengthAdjust="spacingAndGlyphs" transform="rotate(-90 283.40 233.40)">% EGFRt<tspan dy="-3.5" font-size="6.5">+</tspan><tspan dy="3.5"> of CD4</tspan><tspan dy="-3.5" font-size="6.5">+</tspan><tspan dy="3.5"> T cells</tspan></text>
<text x="296.00" y="233.50" font-size="10" text-anchor="middle" fill="#1a1a1a" color="#1a1a1a" textLength="32.5" lengthAdjust="spacingAndGlyphs" transform="rotate(-90 296.00 233.50)">in blood</text>
<line x1="332.60" y1="297.00" x2="332.60" y2="297.00" stroke="#4a4f5e" stroke-width="1.5"/>
<line x1="330.20" y1="297.00" x2="335.00" y2="297.00" stroke="#4a4f5e" stroke-width="1.5"/>
<line x1="330.20" y1="297.00" x2="335.00" y2="297.00" stroke="#4a4f5e" stroke-width="1.5"/>
<line x1="359.63" y1="296.00" x2="359.63" y2="297.00" stroke="#4a4f5e" stroke-width="1.5"/>
<line x1="357.23" y1="296.00" x2="362.03" y2="296.00" stroke="#4a4f5e" stroke-width="1.5"/>
<line x1="357.23" y1="297.00" x2="362.03" y2="297.00" stroke="#4a4f5e" stroke-width="1.5"/>
<line x1="386.66" y1="293.00" x2="386.66" y2="296.00" stroke="#4a4f5e" stroke-width="1.5"/>
<line x1="384.26" y1="293.00" x2="389.06" y2="293.00" stroke="#4a4f5e" stroke-width="1.5"/>
<line x1="384.26" y1="296.00" x2="389.06" y2="296.00" stroke="#4a4f5e" stroke-width="1.5"/>
<line x1="413.69" y1="292.50" x2="413.69" y2="296.00" stroke="#4a4f5e" stroke-width="1.5"/>
<line x1="411.29" y1="292.50" x2="416.09" y2="292.50" stroke="#4a4f5e" stroke-width="1.5"/>
<line x1="411.29" y1="296.00" x2="416.09" y2="296.00" stroke="#4a4f5e" stroke-width="1.5"/>
<line x1="440.72" y1="290.00" x2="440.72" y2="296.00" stroke="#4a4f5e" stroke-width="1.5"/>
<line x1="438.32" y1="290.00" x2="443.12" y2="290.00" stroke="#4a4f5e" stroke-width="1.5"/>
<line x1="438.32" y1="296.00" x2="443.12" y2="296.00" stroke="#4a4f5e" stroke-width="1.5"/>
<line x1="467.75" y1="294.00" x2="467.75" y2="297.00" stroke="#4a4f5e" stroke-width="1.5"/>
<line x1="465.35" y1="294.00" x2="470.15" y2="294.00" stroke="#4a4f5e" stroke-width="1.5"/>
<line x1="465.35" y1="297.00" x2="470.15" y2="297.00" stroke="#4a4f5e" stroke-width="1.5"/>
<line x1="494.78" y1="295.00" x2="494.78" y2="297.50" stroke="#4a4f5e" stroke-width="1.5"/>
<line x1="492.38" y1="295.00" x2="497.18" y2="295.00" stroke="#4a4f5e" stroke-width="1.5"/>
<line x1="492.38" y1="297.50" x2="497.18" y2="297.50" stroke="#4a4f5e" stroke-width="1.5"/>
<polyline points="332.60,297.00 359.63,296.50 386.66,294.60 413.69,294.30 440.72,293.30 467.75,295.50 494.78,296.50" fill="none" stroke="#4b5163" stroke-width="1.9" stroke-dasharray="2.8 1.6" stroke-linejoin="round"/>
<polygon points="329.80,298.92 335.40,298.92 332.60,294.12" fill="#4a4f5e"/>
<polygon points="356.83,298.42 362.43,298.42 359.63,293.62" fill="#4a4f5e"/>
<polygon points="383.86,296.52 389.46,296.52 386.66,291.72" fill="#4a4f5e"/>
<polygon points="410.89,296.22 416.49,296.22 413.69,291.42" fill="#4a4f5e"/>
<polygon points="437.92,295.22 443.52,295.22 440.72,290.42" fill="#4a4f5e"/>
<polygon points="464.95,297.42 470.55,297.42 467.75,292.62" fill="#4a4f5e"/>
<polygon points="491.98,298.42 497.58,298.42 494.78,293.62" fill="#4a4f5e"/>
<line x1="332.60" y1="296.90" x2="332.60" y2="296.90" stroke="#7f2142" stroke-width="1.5"/>
<line x1="330.20" y1="296.90" x2="335.00" y2="296.90" stroke="#7f2142" stroke-width="1.5"/>
<line x1="330.20" y1="296.90" x2="335.00" y2="296.90" stroke="#7f2142" stroke-width="1.5"/>
<line x1="359.63" y1="217.70" x2="359.63" y2="263.80" stroke="#7f2142" stroke-width="1.5"/>
<line x1="357.23" y1="217.70" x2="362.03" y2="217.70" stroke="#7f2142" stroke-width="1.5"/>
<line x1="357.23" y1="263.80" x2="362.03" y2="263.80" stroke="#7f2142" stroke-width="1.5"/>
<line x1="386.66" y1="179.20" x2="386.66" y2="222.50" stroke="#7f2142" stroke-width="1.5"/>
<line x1="384.26" y1="179.20" x2="389.06" y2="179.20" stroke="#7f2142" stroke-width="1.5"/>
<line x1="384.26" y1="222.50" x2="389.06" y2="222.50" stroke="#7f2142" stroke-width="1.5"/>
<line x1="413.69" y1="184.50" x2="413.69" y2="219.50" stroke="#7f2142" stroke-width="1.5"/>
<line x1="411.29" y1="184.50" x2="416.09" y2="184.50" stroke="#7f2142" stroke-width="1.5"/>
<line x1="411.29" y1="219.50" x2="416.09" y2="219.50" stroke="#7f2142" stroke-width="1.5"/>
<line x1="440.72" y1="187.50" x2="440.72" y2="235.50" stroke="#7f2142" stroke-width="1.5"/>
<line x1="438.32" y1="187.50" x2="443.12" y2="187.50" stroke="#7f2142" stroke-width="1.5"/>
<line x1="438.32" y1="235.50" x2="443.12" y2="235.50" stroke="#7f2142" stroke-width="1.5"/>
<line x1="467.75" y1="242.10" x2="467.75" y2="269.60" stroke="#7f2142" stroke-width="1.5"/>
<line x1="465.35" y1="242.10" x2="470.15" y2="242.10" stroke="#7f2142" stroke-width="1.5"/>
<line x1="465.35" y1="269.60" x2="470.15" y2="269.60" stroke="#7f2142" stroke-width="1.5"/>
<line x1="494.78" y1="245.30" x2="494.78" y2="291.20" stroke="#7f2142" stroke-width="1.5"/>
<line x1="492.38" y1="245.30" x2="497.18" y2="245.30" stroke="#7f2142" stroke-width="1.5"/>
<line x1="492.38" y1="291.20" x2="497.18" y2="291.20" stroke="#7f2142" stroke-width="1.5"/>
<line x1="332.60" y1="296.00" x2="332.60" y2="297.00" stroke="#d0962e" stroke-width="1.5"/>
<line x1="330.20" y1="296.00" x2="335.00" y2="296.00" stroke="#d0962e" stroke-width="1.5"/>
<line x1="330.20" y1="297.00" x2="335.00" y2="297.00" stroke="#d0962e" stroke-width="1.5"/>
<line x1="359.63" y1="291.00" x2="359.63" y2="294.00" stroke="#d0962e" stroke-width="1.5"/>
<line x1="357.23" y1="291.00" x2="362.03" y2="291.00" stroke="#d0962e" stroke-width="1.5"/>
<line x1="357.23" y1="294.00" x2="362.03" y2="294.00" stroke="#d0962e" stroke-width="1.5"/>
<line x1="386.66" y1="278.00" x2="386.66" y2="283.50" stroke="#d0962e" stroke-width="1.5"/>
<line x1="384.26" y1="278.00" x2="389.06" y2="278.00" stroke="#d0962e" stroke-width="1.5"/>
<line x1="384.26" y1="283.50" x2="389.06" y2="283.50" stroke="#d0962e" stroke-width="1.5"/>
<line x1="413.69" y1="275.50" x2="413.69" y2="281.00" stroke="#d0962e" stroke-width="1.5"/>
<line x1="411.29" y1="275.50" x2="416.09" y2="275.50" stroke="#d0962e" stroke-width="1.5"/>
<line x1="411.29" y1="281.00" x2="416.09" y2="281.00" stroke="#d0962e" stroke-width="1.5"/>
<line x1="440.72" y1="281.50" x2="440.72" y2="287.50" stroke="#d0962e" stroke-width="1.5"/>
<line x1="438.32" y1="281.50" x2="443.12" y2="281.50" stroke="#d0962e" stroke-width="1.5"/>
<line x1="438.32" y1="287.50" x2="443.12" y2="287.50" stroke="#d0962e" stroke-width="1.5"/>
<line x1="467.75" y1="289.50" x2="467.75" y2="293.00" stroke="#d0962e" stroke-width="1.5"/>
<line x1="465.35" y1="289.50" x2="470.15" y2="289.50" stroke="#d0962e" stroke-width="1.5"/>
<line x1="465.35" y1="293.00" x2="470.15" y2="293.00" stroke="#d0962e" stroke-width="1.5"/>
<line x1="494.78" y1="293.50" x2="494.78" y2="296.00" stroke="#d0962e" stroke-width="1.5"/>
<line x1="492.38" y1="293.50" x2="497.18" y2="293.50" stroke="#d0962e" stroke-width="1.5"/>
<line x1="492.38" y1="296.00" x2="497.18" y2="296.00" stroke="#d0962e" stroke-width="1.5"/>
<polyline points="332.60,297.00 359.63,292.70 386.66,280.80 413.69,278.30 440.72,284.40 467.75,291.20 494.78,294.80" fill="none" stroke="#e6a636" stroke-width="1.7" stroke-linejoin="round"/>
<polyline points="332.60,296.90 359.63,240.80 386.66,201.00 413.69,201.50 440.72,211.80 467.75,255.80 494.78,268.30" fill="none" stroke="#741232" stroke-width="2.0" stroke-dasharray="2.6 1.6" stroke-linejoin="round"/>
<circle cx="332.60" cy="296.90" r="2.60" fill="#a0163c"/>
<circle cx="359.63" cy="240.80" r="2.60" fill="#a0163c"/>
<circle cx="386.66" cy="201.00" r="2.60" fill="#a0163c"/>
<circle cx="413.69" cy="201.50" r="2.60" fill="#a0163c"/>
<circle cx="440.72" cy="211.80" r="2.60" fill="#a0163c"/>
<circle cx="467.75" cy="255.80" r="2.60" fill="#a0163c"/>
<circle cx="494.78" cy="268.30" r="2.60" fill="#a0163c"/>
<polygon points="328.90,294.60 336.30,294.60 332.60,300.60" fill="#e6a636"/>
<polygon points="355.93,290.30 363.33,290.30 359.63,296.30" fill="#e6a636"/>
<polygon points="382.96,278.40 390.36,278.40 386.66,284.40" fill="#e6a636"/>
<polygon points="409.99,275.90 417.39,275.90 413.69,281.90" fill="#e6a636"/>
<polygon points="437.02,282.00 444.42,282.00 440.72,288.00" fill="#e6a636"/>
<polygon points="464.05,288.80 471.45,288.80 467.75,294.80" fill="#e6a636"/>
<polygon points="491.08,292.40 498.48,292.40 494.78,298.40" fill="#e6a636"/>
<ellipse cx="382.36" cy="173.50" rx="1.6" ry="1.35" fill="#141414"/>
<ellipse cx="386.66" cy="173.50" rx="1.6" ry="1.35" fill="#141414"/>
<ellipse cx="390.96" cy="173.50" rx="1.6" ry="1.35" fill="#141414"/>
<ellipse cx="409.39" cy="177.50" rx="1.6" ry="1.35" fill="#141414"/>
<ellipse cx="413.69" cy="177.50" rx="1.6" ry="1.35" fill="#141414"/>
<ellipse cx="417.99" cy="177.50" rx="1.6" ry="1.35" fill="#141414"/>
<ellipse cx="436.42" cy="180.70" rx="1.6" ry="1.35" fill="#141414"/>
<ellipse cx="440.72" cy="180.70" rx="1.6" ry="1.35" fill="#141414"/>
<ellipse cx="445.02" cy="180.70" rx="1.6" ry="1.35" fill="#141414"/>
<ellipse cx="465.60" cy="235.10" rx="1.6" ry="1.35" fill="#141414"/>
<ellipse cx="469.90" cy="235.10" rx="1.6" ry="1.35" fill="#141414"/>
<ellipse cx="494.78" cy="240.00" rx="1.6" ry="1.35" fill="#141414"/>
<text x="335.80" y="304.80" font-size="9" text-anchor="end" fill="#1a1a1a" color="#1a1a1a" transform="rotate(-90 335.80 304.80)">0-36h</text>
<text x="362.83" y="304.80" font-size="9" text-anchor="end" fill="#1a1a1a" color="#1a1a1a" transform="rotate(-90 362.83 304.80)">2-5d</text>
<text x="389.86" y="304.80" font-size="9" text-anchor="end" fill="#1a1a1a" color="#1a1a1a" transform="rotate(-90 389.86 304.80)">6-8d</text>
<text x="416.89" y="304.80" font-size="9" text-anchor="end" fill="#1a1a1a" color="#1a1a1a" transform="rotate(-90 416.89 304.80)">9-12d</text>
<text x="443.92" y="304.80" font-size="9" text-anchor="end" fill="#1a1a1a" color="#1a1a1a" transform="rotate(-90 443.92 304.80)">13-18d</text>
<text x="470.95" y="304.80" font-size="9" text-anchor="end" fill="#1a1a1a" color="#1a1a1a" transform="rotate(-90 470.95 304.80)">18-23d</text>
<text x="497.98" y="304.80" font-size="9" text-anchor="end" fill="#1a1a1a" color="#1a1a1a" transform="rotate(-90 497.98 304.80)">24-30d</text>
<polygon points="90.6,350.5 99.2,350.5 94.9,342" fill="#4a4f5e"/>
<text x="107.00" y="350.20" font-size="10.6" text-anchor="start" fill="#222" color="#222" textLength="63.5" lengthAdjust="spacingAndGlyphs">Grade 0 CRS</text>
<polygon points="219.4,342 228.2,342 223.8,350.5" fill="#d48a28"/>
<text x="237.50" y="350.20" font-size="10.6" text-anchor="start" fill="#222" color="#222" textLength="73.7" lengthAdjust="spacingAndGlyphs">Grade 1-3 CRS</text>
<circle cx="366.4" cy="346.3" r="4.3" fill="#a8123a"/>
<text x="379.60" y="350.20" font-size="10.6" text-anchor="start" fill="#222" color="#222" textLength="70.4" lengthAdjust="spacingAndGlyphs">Grade ≥4 CRS</text>
<line x1="56.50" y1="377.50" x2="56.50" y2="507.50" stroke="#1a1a1a" stroke-width="1.3"/>
<line x1="55.90" y1="506.90" x2="249.30" y2="506.90" stroke="#1a1a1a" stroke-width="1.3"/>
<line x1="52.70" y1="506.90" x2="56.50" y2="506.90" stroke="#1a1a1a" stroke-width="1.4"/>
<line x1="52.70" y1="481.70" x2="56.50" y2="481.70" stroke="#1a1a1a" stroke-width="1.4"/>
<line x1="52.70" y1="456.50" x2="56.50" y2="456.50" stroke="#1a1a1a" stroke-width="1.4"/>
<line x1="52.70" y1="431.30" x2="56.50" y2="431.30" stroke="#1a1a1a" stroke-width="1.4"/>
<line x1="52.70" y1="406.10" x2="56.50" y2="406.10" stroke="#1a1a1a" stroke-width="1.4"/>
<line x1="52.70" y1="380.90" x2="56.50" y2="380.90" stroke="#1a1a1a" stroke-width="1.4"/>
<line x1="56.60" y1="506.90" x2="56.60" y2="510.90" stroke="#1a1a1a" stroke-width="1.3"/>
<line x1="88.18" y1="506.90" x2="88.18" y2="510.90" stroke="#1a1a1a" stroke-width="1.3"/>
<line x1="119.76" y1="506.90" x2="119.76" y2="510.90" stroke="#1a1a1a" stroke-width="1.3"/>
<line x1="151.34" y1="506.90" x2="151.34" y2="510.90" stroke="#1a1a1a" stroke-width="1.3"/>
<line x1="182.92" y1="506.90" x2="182.92" y2="510.90" stroke="#1a1a1a" stroke-width="1.3"/>
<line x1="214.50" y1="506.90" x2="214.50" y2="510.90" stroke="#1a1a1a" stroke-width="1.3"/>
<line x1="246.08" y1="506.90" x2="246.08" y2="510.90" stroke="#1a1a1a" stroke-width="1.3"/>
<text x="49.30" y="510.10" font-size="9.2" text-anchor="end" fill="#1a1a1a" color="#1a1a1a">0.0</text>
<text x="49.30" y="484.90" font-size="9.2" text-anchor="end" fill="#1a1a1a" color="#1a1a1a">0.2</text>
<text x="49.30" y="459.70" font-size="9.2" text-anchor="end" fill="#1a1a1a" color="#1a1a1a">0.4</text>
<text x="49.30" y="434.50" font-size="9.2" text-anchor="end" fill="#1a1a1a" color="#1a1a1a">0.6</text>
<text x="49.30" y="409.30" font-size="9.2" text-anchor="end" fill="#1a1a1a" color="#1a1a1a">0.8</text>
<text x="49.30" y="384.10" font-size="9.2" text-anchor="end" fill="#1a1a1a" color="#1a1a1a">1.0</text>
<text x="30.90" y="442.50" font-size="9.6" text-anchor="middle" fill="#1a1a1a" color="#1a1a1a" textLength="88.5" lengthAdjust="spacingAndGlyphs" transform="rotate(-90 30.90 442.50)">Estimated probability</text>
<polyline points="56.60,502.93 59.68,502.55 62.75,502.14 65.83,501.69 68.91,501.20 71.98,500.67 75.06,500.09 78.14,499.46 81.21,498.77 84.29,498.03 87.37,497.22 90.44,496.35 93.52,495.41 96.60,494.39 99.67,493.29 102.75,492.11 105.83,490.84 108.90,489.48 111.98,488.02 115.06,486.47 118.13,484.81 121.21,483.05 124.29,481.18 127.36,479.21 130.44,477.13 133.52,474.94 136.59,472.65 139.67,470.26 142.75,467.77 145.82,465.20 148.90,462.54 151.98,459.81 155.05,457.01 158.13,454.16 161.21,451.26 164.28,448.33 167.36,445.38 170.44,442.42 173.51,439.48 176.59,436.55 179.67,433.65 182.74,430.79 185.82,428.00 188.90,425.26 191.97,422.60 195.05,420.03 198.13,417.54 201.20,415.15 204.28,412.86 207.36,410.68 210.43,408.60 213.51,406.62 216.59,404.75 219.66,402.99 222.74,401.33 225.82,399.78 228.89,398.32 231.97,396.96 235.05,395.69 238.12,394.51 241.20,393.41" fill="none" stroke="#8e1a3c" stroke-width="2.3" stroke-linejoin="round"/>
<polyline points="56.60,505.00 59.68,504.84 62.75,504.67 65.83,504.48 68.91,504.28 71.98,504.06 75.06,503.82 78.14,503.57 81.21,503.29 84.29,502.99 87.37,502.67 90.44,502.32 93.52,501.95 96.60,501.55 99.67,501.11 102.75,500.64 105.83,500.14 108.90,499.59 111.98,499.01 115.06,498.38 118.13,497.71 121.21,496.98 124.29,496.21 127.36,495.38 130.44,494.50 133.52,493.55 136.59,492.54 139.67,491.47 142.75,490.33 145.82,489.11 148.90,487.82 151.98,486.46 155.05,485.02 158.13,483.50 161.21,481.90 164.28,480.22 167.36,478.46 170.44,476.62 173.51,474.69 176.59,472.69 179.67,470.62 182.74,468.47 185.82,466.25 188.90,463.96 191.97,461.61 195.05,459.21 198.13,456.77 201.20,454.28 204.28,451.75 207.36,449.20 210.43,446.64 213.51,444.06 216.59,441.48 219.66,438.91 222.74,436.36 225.82,433.83 228.89,431.34 231.97,428.89 235.05,426.48 238.12,424.13 241.20,421.83" fill="none" stroke="#253f66" stroke-width="2.3" stroke-linejoin="round"/>
<text x="60.60" y="391.20" font-size="8.2" text-anchor="start" fill="#8e2d50" color="#8e2d50" textLength="35.6" lengthAdjust="spacingAndGlyphs" style="stroke-width:0.08px"><tspan font-style="italic">P</tspan> &lt; .0001</text>
<text x="60.60" y="400.40" font-size="8.2" text-anchor="start" fill="#4f6688" color="#4f6688" textLength="35.6" lengthAdjust="spacingAndGlyphs" style="stroke-width:0.08px"><tspan font-style="italic">P</tspan> = .0006</text>
<line x1="318.50" y1="377.50" x2="318.50" y2="507.30" stroke="#1a1a1a" stroke-width="1.3"/>
<line x1="317.90" y1="506.70" x2="509.00" y2="506.70" stroke="#1a1a1a" stroke-width="1.3"/>
<line x1="314.70" y1="506.70" x2="318.50" y2="506.70" stroke="#1a1a1a" stroke-width="1.4"/>
<line x1="314.70" y1="481.50" x2="318.50" y2="481.50" stroke="#1a1a1a" stroke-width="1.4"/>
<line x1="314.70" y1="456.30" x2="318.50" y2="456.30" stroke="#1a1a1a" stroke-width="1.4"/>
<line x1="314.70" y1="431.10" x2="318.50" y2="431.10" stroke="#1a1a1a" stroke-width="1.4"/>
<line x1="314.70" y1="405.90" x2="318.50" y2="405.90" stroke="#1a1a1a" stroke-width="1.4"/>
<line x1="314.70" y1="380.70" x2="318.50" y2="380.70" stroke="#1a1a1a" stroke-width="1.4"/>
<line x1="316.00" y1="494.10" x2="318.50" y2="494.10" stroke="#1a1a1a" stroke-width="1.2"/>
<line x1="316.00" y1="468.90" x2="318.50" y2="468.90" stroke="#1a1a1a" stroke-width="1.2"/>
<line x1="316.00" y1="443.70" x2="318.50" y2="443.70" stroke="#1a1a1a" stroke-width="1.2"/>
<line x1="316.00" y1="418.50" x2="318.50" y2="418.50" stroke="#1a1a1a" stroke-width="1.2"/>
<line x1="316.00" y1="393.30" x2="318.50" y2="393.30" stroke="#1a1a1a" stroke-width="1.2"/>
<line x1="318.50" y1="506.70" x2="318.50" y2="510.70" stroke="#1a1a1a" stroke-width="1.3"/>
<line x1="356.40" y1="506.70" x2="356.40" y2="510.70" stroke="#1a1a1a" stroke-width="1.3"/>
<line x1="394.30" y1="506.70" x2="394.30" y2="510.70" stroke="#1a1a1a" stroke-width="1.3"/>
<line x1="432.20" y1="506.70" x2="432.20" y2="510.70" stroke="#1a1a1a" stroke-width="1.3"/>
<line x1="470.10" y1="506.70" x2="470.10" y2="510.70" stroke="#1a1a1a" stroke-width="1.3"/>
<line x1="508.00" y1="506.70" x2="508.00" y2="510.70" stroke="#1a1a1a" stroke-width="1.3"/>
<text x="311.30" y="509.90" font-size="9.2" text-anchor="end" fill="#1a1a1a" color="#1a1a1a">0.0</text>
<text x="311.30" y="484.70" font-size="9.2" text-anchor="end" fill="#1a1a1a" color="#1a1a1a">0.2</text>
<text x="311.30" y="459.50" font-size="9.2" text-anchor="end" fill="#1a1a1a" color="#1a1a1a">0.4</text>
<text x="311.30" y="434.30" font-size="9.2" text-anchor="end" fill="#1a1a1a" color="#1a1a1a">0.6</text>
<text x="311.30" y="409.10" font-size="9.2" text-anchor="end" fill="#1a1a1a" color="#1a1a1a">0.8</text>
<text x="311.30" y="383.90" font-size="9.2" text-anchor="end" fill="#1a1a1a" color="#1a1a1a">1.0</text>
<text x="292.70" y="442.50" font-size="9.6" text-anchor="middle" fill="#1a1a1a" color="#1a1a1a" textLength="88.5" lengthAdjust="spacingAndGlyphs" transform="rotate(-90 292.70 442.50)">Estimated probability</text>
<polyline points="318.50,496.06 321.66,495.40 324.82,494.70 327.98,493.96 331.13,493.18 334.29,492.35 337.45,491.49 340.61,490.58 343.77,489.62 346.93,488.62 350.08,487.57 353.24,486.47 356.40,485.32 359.56,484.11 362.72,482.86 365.88,481.55 369.03,480.19 372.19,478.77 375.35,477.30 378.51,475.78 381.67,474.21 384.82,472.58 387.98,470.91 391.14,469.18 394.30,467.41 397.46,465.60 400.62,463.74 403.77,461.84 406.93,459.91 410.09,457.94 413.25,455.95 416.41,453.92 419.57,451.88 422.73,449.82 425.88,447.74 429.04,445.66 432.20,443.57 435.36,441.48 438.52,439.40 441.68,437.32 444.83,435.26 447.99,433.22 451.15,431.20 454.31,429.21 457.47,427.24 460.62,425.31 463.78,423.42 466.94,421.57 470.10,419.76 473.26,418.00 476.42,416.28 479.57,414.61 482.73,412.99 485.89,411.42 489.05,409.91 492.21,408.45 495.37,407.04 498.52,405.68 501.68,404.38 504.84,403.13 508.00,401.94" fill="none" stroke="#8e1a3c" stroke-width="2.3" stroke-linejoin="round"/>
<polyline points="318.50,503.62 321.66,503.41 324.82,503.19 327.98,502.96 331.13,502.71 334.29,502.45 337.45,502.16 340.61,501.86 343.77,501.55 346.93,501.21 350.08,500.85 353.24,500.47 356.40,500.06 359.56,499.63 362.72,499.18 365.88,498.70 369.03,498.18 372.19,497.64 375.35,497.07 378.51,496.46 381.67,495.82 384.82,495.14 387.98,494.43 391.14,493.67 394.30,492.88 397.46,492.04 400.62,491.16 403.77,490.23 406.93,489.26 410.09,488.24 413.25,487.17 416.41,486.05 419.57,484.88 422.73,483.65 425.88,482.38 429.04,481.05 432.20,479.67 435.36,478.23 438.52,476.75 441.68,475.21 444.83,473.61 447.99,471.97 451.15,470.28 454.31,468.53 457.47,466.75 460.62,464.92 463.78,463.04 466.94,461.13 470.10,459.19 473.26,457.21 476.42,455.20 479.57,453.17 482.73,451.12 485.89,449.05 489.05,446.97 492.21,444.89 495.37,442.80 498.52,440.71 501.68,438.63 504.84,436.56 508.00,434.51" fill="none" stroke="#253f66" stroke-width="2.3" stroke-linejoin="round"/>
<text x="323.90" y="398.80" font-size="8.2" text-anchor="start" fill="#8e2d50" color="#8e2d50" textLength="35" lengthAdjust="spacingAndGlyphs" style="stroke-width:0.08px"><tspan font-style="italic">P</tspan> = .0007</text>
<text x="323.90" y="408.10" font-size="8.2" text-anchor="start" fill="#4f6688" color="#4f6688" textLength="30" lengthAdjust="spacingAndGlyphs" style="stroke-width:0.08px"><tspan font-style="italic">P</tspan> = .009</text>
<line x1="56.50" y1="533.80" x2="56.50" y2="664.20" stroke="#1a1a1a" stroke-width="1.3"/>
<line x1="55.90" y1="663.60" x2="249.00" y2="663.60" stroke="#1a1a1a" stroke-width="1.3"/>
<line x1="52.70" y1="663.60" x2="56.50" y2="663.60" stroke="#1a1a1a" stroke-width="1.4"/>
<line x1="52.70" y1="638.20" x2="56.50" y2="638.20" stroke="#1a1a1a" stroke-width="1.4"/>
<line x1="52.70" y1="612.80" x2="56.50" y2="612.80" stroke="#1a1a1a" stroke-width="1.4"/>
<line x1="52.70" y1="587.40" x2="56.50" y2="587.40" stroke="#1a1a1a" stroke-width="1.4"/>
<line x1="52.70" y1="562.00" x2="56.50" y2="562.00" stroke="#1a1a1a" stroke-width="1.4"/>
<line x1="52.70" y1="536.60" x2="56.50" y2="536.60" stroke="#1a1a1a" stroke-width="1.4"/>
<line x1="54.00" y1="650.90" x2="56.50" y2="650.90" stroke="#1a1a1a" stroke-width="1.2"/>
<line x1="54.00" y1="625.50" x2="56.50" y2="625.50" stroke="#1a1a1a" stroke-width="1.2"/>
<line x1="54.00" y1="600.10" x2="56.50" y2="600.10" stroke="#1a1a1a" stroke-width="1.2"/>
<line x1="54.00" y1="574.70" x2="56.50" y2="574.70" stroke="#1a1a1a" stroke-width="1.2"/>
<line x1="54.00" y1="549.30" x2="56.50" y2="549.30" stroke="#1a1a1a" stroke-width="1.2"/>
<line x1="56.60" y1="663.60" x2="56.60" y2="667.10" stroke="#1a1a1a" stroke-width="1.3"/>
<line x1="88.38" y1="663.60" x2="88.38" y2="667.10" stroke="#1a1a1a" stroke-width="1.3"/>
<line x1="120.16" y1="663.60" x2="120.16" y2="667.10" stroke="#1a1a1a" stroke-width="1.3"/>
<line x1="151.94" y1="663.60" x2="151.94" y2="667.10" stroke="#1a1a1a" stroke-width="1.3"/>
<line x1="183.72" y1="663.60" x2="183.72" y2="667.10" stroke="#1a1a1a" stroke-width="1.3"/>
<line x1="215.50" y1="663.60" x2="215.50" y2="667.10" stroke="#1a1a1a" stroke-width="1.3"/>
<line x1="247.28" y1="663.60" x2="247.28" y2="667.10" stroke="#1a1a1a" stroke-width="1.3"/>
<text x="49.30" y="666.80" font-size="9.2" text-anchor="end" fill="#1a1a1a" color="#1a1a1a">0.0</text>
<text x="49.30" y="641.40" font-size="9.2" text-anchor="end" fill="#1a1a1a" color="#1a1a1a">0.2</text>
<text x="49.30" y="616.00" font-size="9.2" text-anchor="end" fill="#1a1a1a" color="#1a1a1a">0.4</text>
<text x="49.30" y="590.60" font-size="9.2" text-anchor="end" fill="#1a1a1a" color="#1a1a1a">0.6</text>
<text x="49.30" y="565.20" font-size="9.2" text-anchor="end" fill="#1a1a1a" color="#1a1a1a">0.8</text>
<text x="49.30" y="539.80" font-size="9.2" text-anchor="end" fill="#1a1a1a" color="#1a1a1a">1.0</text>
<text x="56.60" y="678.50" font-size="8.5" text-anchor="middle" fill="#1a1a1a" color="#1a1a1a">-2</text>
<text x="88.38" y="678.50" font-size="8.5" text-anchor="middle" fill="#1a1a1a" color="#1a1a1a">-1</text>
<text x="120.16" y="678.50" font-size="8.5" text-anchor="middle" fill="#1a1a1a" color="#1a1a1a">0</text>
<text x="151.94" y="678.50" font-size="8.5" text-anchor="middle" fill="#1a1a1a" color="#1a1a1a">1</text>
<text x="183.72" y="678.50" font-size="8.5" text-anchor="middle" fill="#1a1a1a" color="#1a1a1a">2</text>
<text x="215.50" y="678.50" font-size="8.5" text-anchor="middle" fill="#1a1a1a" color="#1a1a1a">3</text>
<text x="247.28" y="678.50" font-size="8.5" text-anchor="middle" fill="#1a1a1a" color="#1a1a1a">4</text>
<text x="30.90" y="598.50" font-size="9.6" text-anchor="middle" fill="#1a1a1a" color="#1a1a1a" textLength="88.5" lengthAdjust="spacingAndGlyphs" transform="rotate(-90 30.90 598.50)">Estimated probability</text>
<polyline points="65.82,659.75 67.74,659.53 69.66,659.30 71.58,659.06 73.51,658.81 75.43,658.54 77.35,658.25 79.28,657.95 81.20,657.64 83.12,657.31 85.04,656.96 86.97,656.59 88.89,656.20 90.81,655.80 92.73,655.37 94.66,654.92 96.58,654.45 98.50,653.96 100.42,653.44 102.35,652.89 104.27,652.32 106.19,651.72 108.12,651.10 110.04,650.44 111.96,649.76 113.88,649.04 115.81,648.29 117.73,647.51 119.65,646.69 121.57,645.84 123.50,644.95 125.42,644.03 127.34,643.07 129.26,642.07 131.19,641.04 133.11,639.96 135.03,638.85 136.96,637.69 138.88,636.50 140.80,635.27 142.72,634.00 144.65,632.69 146.57,631.34 148.49,629.95 150.41,628.53 152.34,627.06 154.26,625.57 156.18,624.03 158.11,622.47 160.03,620.87 161.95,619.24 163.87,617.59 165.80,615.91 167.72,614.20 169.64,612.47 171.56,610.73 173.49,608.97 175.41,607.19 177.33,605.40 179.25,603.60 181.18,601.80 183.10,600.00 185.02,598.19 186.95,596.39 188.87,594.59 190.79,592.81 192.71,591.03 194.64,589.27 196.56,587.52 198.48,585.80 200.40,584.10 202.33,582.42 204.25,580.77 206.17,579.14 208.10,577.55 210.02,575.99 211.94,574.46 213.86,572.97 215.79,571.51 217.71,570.09 219.63,568.70" fill="none" stroke="#3a2250" stroke-width="1.8" stroke-linejoin="round"/>
<polyline points="95.37,656.19 96.77,655.55 98.16,654.85 99.55,654.09 100.95,653.27 102.34,652.39 103.74,651.45 105.13,650.43 106.53,649.34 107.92,648.17 109.32,646.92 110.71,645.58 112.10,644.16 113.50,642.64 114.89,641.03 116.29,639.32 117.68,637.52 119.08,635.62 120.47,633.63 121.86,631.53 123.26,629.35 124.65,627.07 126.05,624.70 127.44,622.25 128.84,619.72 130.23,617.13 131.62,614.47 133.02,611.75 134.41,608.99 135.81,606.20 137.20,603.38 138.60,600.54 139.99,597.71 141.39,594.89 142.78,592.08 144.17,589.31 145.57,586.58 146.96,583.90 148.36,581.28 149.75,578.73 151.15,576.26 152.54,573.86 153.93,571.56 155.33,569.34 156.72,567.22 158.12,565.19 159.51,563.26 160.91,561.43 162.30,559.69 163.69,558.06 165.09,556.51 166.48,555.06 167.88,553.69 169.27,552.41 170.67,551.22 172.06,550.10 173.46,549.06 174.85,548.09 176.24,547.19 177.64,546.36 179.03,545.58 180.43,544.87 181.82,544.20 183.22,543.59 184.61,543.02 186.00,542.50 187.40,542.02 188.79,541.57 190.19,541.16 191.58,540.79 192.98,540.44 194.37,540.12 195.76,539.83 197.16,539.56 198.55,539.31 199.95,539.08 201.34,538.88 202.74,538.68 204.13,538.51 205.53,538.35 206.92,538.20" fill="none" stroke="#aaad88" stroke-width="1.7" stroke-linejoin="round"/>
<polyline points="65.82,657.13 67.73,656.58 69.64,655.99 71.56,655.36 73.47,654.68 75.38,653.95 77.30,653.16 79.21,652.31 81.12,651.40 83.04,650.43 84.95,649.39 86.87,648.28 88.78,647.09 90.69,645.83 92.61,644.48 94.52,643.06 96.43,641.54 98.35,639.95 100.26,638.26 102.17,636.49 104.09,634.63 106.00,632.67 107.91,630.64 109.83,628.51 111.74,626.31 113.66,624.02 115.57,621.66 117.48,619.24 119.40,616.74 121.31,614.20 123.22,611.60 125.14,608.96 127.05,606.29 128.96,603.60 130.88,600.90 132.79,598.19 134.70,595.49 136.62,592.81 138.53,590.15 140.44,587.53 142.36,584.95 144.27,582.43 146.19,579.96 148.10,577.56 150.01,575.23 151.93,572.98 153.84,570.81 155.75,568.72 157.67,566.72 159.58,564.80 161.49,562.97 163.41,561.24 165.32,559.59 167.23,558.03 169.15,556.55 171.06,555.16 172.98,553.85 174.89,552.62 176.80,551.46 178.72,550.38 180.63,549.36 182.54,548.42 184.46,547.54 186.37,546.71 188.28,545.95 190.20,545.24 192.11,544.57 194.02,543.96 195.94,543.39 197.85,542.86 199.76,542.37 201.68,541.92 203.59,541.50 205.51,541.12 207.42,540.76 209.33,540.43 211.25,540.13 213.16,539.85 215.07,539.59 216.99,539.35 218.90,539.13" fill="none" stroke="#5f9f42" stroke-width="1.8" stroke-linejoin="round"/>
<polyline points="56.60,662.54 58.90,662.33 61.21,662.07 63.51,661.76 65.82,661.38 68.12,660.93 70.42,660.40 72.73,659.76 75.03,659.00 77.34,658.09 79.64,657.01 81.94,655.74 84.25,654.24 86.55,652.47 88.86,650.42 91.16,648.04 93.46,645.29 95.77,642.15 98.07,638.60 100.38,634.63 102.68,630.22 104.99,625.41 107.29,620.23 109.59,614.73 111.90,608.99 114.20,603.09 116.51,597.15 118.81,591.25 121.11,585.51 123.42,580.01 125.72,574.82 128.03,570.01 130.33,565.60 132.63,561.62 134.94,558.07 137.24,554.93 139.55,552.18 141.85,549.80 144.15,547.74 146.46,545.98 148.76,544.47 151.07,543.20 153.37,542.12 155.67,541.21 157.98,540.45 160.28,539.81 162.59,539.27 164.89,538.82 167.19,538.45 169.50,538.13 171.80,537.88 174.11,537.66 176.41,537.48 178.71,537.33 181.02,537.21 183.32,537.10 185.63,537.02 187.93,536.95 190.23,536.89 192.54,536.84 194.84,536.80 197.15,536.76 199.45,536.74 201.76,536.71 204.06,536.69 206.36,536.68 208.67,536.66 210.97,536.65 213.28,536.64 215.58,536.64 217.88,536.63 220.19,536.63 222.49,536.62 224.80,536.62 227.10,536.61 229.40,536.61 231.71,536.61 234.01,536.61 236.32,536.61 238.62,536.61 240.92,536.60" fill="none" stroke="#6aa6d8" stroke-width="1.7" stroke-linejoin="round"/>
<text x="63.10" y="549.60" font-size="8.2" text-anchor="start" fill="#7aaedb" color="#7aaedb" textLength="31" lengthAdjust="spacingAndGlyphs" style="stroke-width:0.08px"><tspan font-style="italic">P</tspan> = .009</text>
<text x="63.10" y="558.00" font-size="8.2" text-anchor="start" fill="#b3b592" color="#b3b592" textLength="26" lengthAdjust="spacingAndGlyphs" style="stroke-width:0.08px"><tspan font-style="italic">P</tspan> = .04</text>
<text x="63.10" y="566.30" font-size="8.2" text-anchor="start" fill="#6aa552" color="#6aa552" textLength="35" lengthAdjust="spacingAndGlyphs" style="stroke-width:0.08px"><tspan font-style="italic">P</tspan> = .0009</text>
<text x="63.10" y="575.00" font-size="8.2" text-anchor="start" fill="#45305e" color="#45305e" textLength="26" lengthAdjust="spacingAndGlyphs" style="stroke-width:0.08px"><tspan font-style="italic">P</tspan> = .02</text>
<text x="65.80" y="696.50" font-size="10.6" text-anchor="start" fill="#222" color="#222" textLength="174" lengthAdjust="spacingAndGlyphs">Peak CD8<tspan dy="-3.5" font-size="7">+</tspan><tspan dy="3.5">/EGFRt</tspan><tspan dy="-3.5" font-size="7">+</tspan><tspan dy="3.5"> T cells (log</tspan><tspan dy="2.5" font-size="7.5">10</tspan><tspan dy="-2.5"> cells /µl)</tspan></text>
<line x1="318.60" y1="533.80" x2="318.60" y2="664.20" stroke="#1a1a1a" stroke-width="1.3"/>
<line x1="318.00" y1="663.60" x2="509.00" y2="663.60" stroke="#1a1a1a" stroke-width="1.3"/>
<line x1="314.80" y1="663.60" x2="318.60" y2="663.60" stroke="#1a1a1a" stroke-width="1.4"/>
<line x1="314.80" y1="638.20" x2="318.60" y2="638.20" stroke="#1a1a1a" stroke-width="1.4"/>
<line x1="314.80" y1="612.80" x2="318.60" y2="612.80" stroke="#1a1a1a" stroke-width="1.4"/>
<line x1="314.80" y1="587.40" x2="318.60" y2="587.40" stroke="#1a1a1a" stroke-width="1.4"/>
<line x1="314.80" y1="562.00" x2="318.60" y2="562.00" stroke="#1a1a1a" stroke-width="1.4"/>
<line x1="314.80" y1="536.60" x2="318.60" y2="536.60" stroke="#1a1a1a" stroke-width="1.4"/>
<line x1="316.10" y1="650.90" x2="318.60" y2="650.90" stroke="#1a1a1a" stroke-width="1.2"/>
<line x1="316.10" y1="625.50" x2="318.60" y2="625.50" stroke="#1a1a1a" stroke-width="1.2"/>
<line x1="316.10" y1="600.10" x2="318.60" y2="600.10" stroke="#1a1a1a" stroke-width="1.2"/>
<line x1="316.10" y1="574.70" x2="318.60" y2="574.70" stroke="#1a1a1a" stroke-width="1.2"/>
<line x1="316.10" y1="549.30" x2="318.60" y2="549.30" stroke="#1a1a1a" stroke-width="1.2"/>
<line x1="318.50" y1="663.60" x2="318.50" y2="667.10" stroke="#1a1a1a" stroke-width="1.3"/>
<line x1="356.38" y1="663.60" x2="356.38" y2="667.10" stroke="#1a1a1a" stroke-width="1.3"/>
<line x1="394.26" y1="663.60" x2="394.26" y2="667.10" stroke="#1a1a1a" stroke-width="1.3"/>
<line x1="432.14" y1="663.60" x2="432.14" y2="667.10" stroke="#1a1a1a" stroke-width="1.3"/>
<line x1="470.02" y1="663.60" x2="470.02" y2="667.10" stroke="#1a1a1a" stroke-width="1.3"/>
<line x1="507.90" y1="663.60" x2="507.90" y2="667.10" stroke="#1a1a1a" stroke-width="1.3"/>
<text x="311.40" y="666.80" font-size="9.2" text-anchor="end" fill="#1a1a1a" color="#1a1a1a">0.0</text>
<text x="311.40" y="641.40" font-size="9.2" text-anchor="end" fill="#1a1a1a" color="#1a1a1a">0.2</text>
<text x="311.40" y="616.00" font-size="9.2" text-anchor="end" fill="#1a1a1a" color="#1a1a1a">0.4</text>
<text x="311.40" y="590.60" font-size="9.2" text-anchor="end" fill="#1a1a1a" color="#1a1a1a">0.6</text>
<text x="311.40" y="565.20" font-size="9.2" text-anchor="end" fill="#1a1a1a" color="#1a1a1a">0.8</text>
<text x="311.40" y="539.80" font-size="9.2" text-anchor="end" fill="#1a1a1a" color="#1a1a1a">1.0</text>
<text x="318.50" y="678.50" font-size="8.5" text-anchor="middle" fill="#1a1a1a" color="#1a1a1a">-2</text>
<text x="356.38" y="678.50" font-size="8.5" text-anchor="middle" fill="#1a1a1a" color="#1a1a1a">-1</text>
<text x="394.26" y="678.50" font-size="8.5" text-anchor="middle" fill="#1a1a1a" color="#1a1a1a">0</text>
<text x="432.14" y="678.50" font-size="8.5" text-anchor="middle" fill="#1a1a1a" color="#1a1a1a">1</text>
<text x="470.02" y="678.50" font-size="8.5" text-anchor="middle" fill="#1a1a1a" color="#1a1a1a">2</text>
<text x="507.90" y="678.50" font-size="8.5" text-anchor="middle" fill="#1a1a1a" color="#1a1a1a">3</text>
<text x="292.70" y="598.50" font-size="9.6" text-anchor="middle" fill="#1a1a1a" color="#1a1a1a" textLength="88.5" lengthAdjust="spacingAndGlyphs" transform="rotate(-90 292.70 598.50)">Estimated probability</text>
<polyline points="353.20,652.58 354.86,652.27 356.51,651.93 358.17,651.57 359.82,651.19 361.48,650.78 363.13,650.35 364.79,649.90 366.45,649.42 368.10,648.93 369.76,648.41 371.41,647.87 373.07,647.31 374.72,646.74 376.38,646.14 378.04,645.52 379.69,644.88 381.35,644.23 383.00,643.55 384.66,642.86 386.31,642.15 387.97,641.42 389.63,640.68 391.28,639.92 392.94,639.14 394.59,638.35 396.25,637.54 397.90,636.71 399.56,635.88 401.22,635.02 402.87,634.16 404.53,633.28 406.18,632.38 407.84,631.48 409.49,630.56 411.15,629.63 412.81,628.68 414.46,627.73 416.12,626.76 417.77,625.79 419.43,624.80 421.08,623.80 422.74,622.79 424.39,621.78 426.05,620.75 427.71,619.72 429.36,618.68 431.02,617.63 432.67,616.57 434.33,615.51 435.98,614.44 437.64,613.36 439.30,612.28 440.95,611.19 442.61,610.10 444.26,609.00 445.92,607.89 447.57,606.79 449.23,605.68 450.89,604.56 452.54,603.44 454.20,602.32 455.85,601.20 457.51,600.08 459.16,598.95 460.82,597.82 462.48,596.69 464.13,595.56 465.79,594.43 467.44,593.30 469.10,592.18 470.75,591.05 472.41,589.92 474.07,588.80 475.72,587.67 477.38,586.55 479.03,585.44 480.69,584.32 482.34,583.21 484.00,582.10" fill="none" stroke="#3a2250" stroke-width="1.8" stroke-linejoin="round"/>
<polyline points="348.40,640.46 349.89,638.94 351.38,637.38 352.87,635.78 354.35,634.14 355.84,632.46 357.33,630.75 358.82,629.01 360.31,627.24 361.80,625.45 363.29,623.63 364.77,621.79 366.26,619.93 367.75,618.05 369.24,616.15 370.73,614.24 372.22,612.32 373.71,610.39 375.19,608.46 376.68,606.52 378.17,604.58 379.66,602.64 381.15,600.70 382.64,598.76 384.13,596.83 385.62,594.92 387.10,593.01 388.59,591.11 390.08,589.24 391.57,587.38 393.06,585.54 394.55,583.72 396.04,581.93 397.52,580.16 399.01,578.43 400.50,576.72 401.99,575.05 403.48,573.41 404.97,571.82 406.46,570.26 407.94,568.74 409.43,567.26 410.92,565.82 412.41,564.42 413.90,563.05 415.39,561.73 416.88,560.45 418.36,559.21 419.85,558.00 421.34,556.84 422.83,555.72 424.32,554.64 425.81,553.60 427.30,552.59 428.78,551.63 430.27,550.71 431.76,549.83 433.25,549.00 434.74,548.20 436.23,547.44 437.72,546.73 439.21,546.06 440.69,545.42 442.18,544.83 443.67,544.28 445.16,543.78 446.65,543.31 448.14,542.89 449.63,542.51 451.11,542.17 452.60,541.87 454.09,541.62 455.58,541.41 457.07,541.24 458.56,541.11 460.05,541.03 461.53,540.99 463.02,540.99 464.51,541.04 466.00,541.13" fill="none" stroke="#aaad88" stroke-width="1.7" stroke-linejoin="round"/>
<polyline points="353.60,634.06 355.25,632.72 356.90,631.36 358.55,629.99 360.20,628.61 361.85,627.21 363.50,625.81 365.15,624.39 366.81,622.96 368.46,621.52 370.11,620.07 371.76,618.61 373.41,617.15 375.06,615.68 376.71,614.20 378.36,612.72 380.01,611.24 381.66,609.75 383.31,608.26 384.96,606.77 386.61,605.28 388.26,603.78 389.91,602.29 391.56,600.80 393.22,599.32 394.87,597.83 396.52,596.35 398.17,594.88 399.82,593.41 401.47,591.95 403.12,590.49 404.77,589.04 406.42,587.61 408.07,586.18 409.72,584.76 411.37,583.36 413.02,581.96 414.67,580.58 416.32,579.22 417.97,577.87 419.63,576.53 421.28,575.21 422.93,573.91 424.58,572.62 426.23,571.36 427.88,570.11 429.53,568.89 431.18,567.68 432.83,566.50 434.48,565.34 436.13,564.21 437.78,563.10 439.43,562.01 441.08,560.95 442.73,559.92 444.38,558.92 446.04,557.94 447.69,557.00 449.34,556.08 450.99,555.19 452.64,554.34 454.29,553.52 455.94,552.73 457.59,551.98 459.24,551.26 460.89,550.58 462.54,549.94 464.19,549.33 465.84,548.76 467.49,548.23 469.14,547.74 470.79,547.30 472.45,546.89 474.10,546.52 475.75,546.20 477.40,545.93 479.05,545.69 480.70,545.51 482.35,545.37 484.00,545.28" fill="none" stroke="#5f9f42" stroke-width="1.8" stroke-linejoin="round"/>
<polyline points="318.70,658.30 340.00,643.50 348.00,638.10 353.60,633.50 355.55,630.66 357.51,627.77 359.46,624.83 361.41,621.83 363.37,618.81 365.32,615.74 367.27,612.63 369.23,609.45 371.18,606.20 373.13,602.81 375.08,599.31 377.04,595.77 378.99,592.27 380.94,588.86 382.90,585.47 384.85,582.13 386.80,578.90 388.76,575.83 390.71,572.83 392.66,569.94 394.62,567.25 396.57,564.82 398.52,562.62 400.48,560.58 402.43,558.67 404.38,556.85 406.34,555.13 408.29,553.52 410.24,552.02 412.19,550.57 414.15,549.19 416.10,547.91 418.05,546.77 420.01,545.75 421.96,544.80 423.91,543.96 425.87,543.24 427.82,542.65 429.77,542.13 431.73,541.67 433.68,541.26 435.63,540.89 437.59,540.55 439.54,540.26 441.49,540.01 443.45,539.77 445.40,539.55 447.35,539.33 449.31,539.13 451.26,538.94 453.21,538.77 455.16,538.61 457.12,538.47 459.07,538.35 461.02,538.25 462.98,538.16 464.93,538.07 466.88,537.99 468.84,537.92 470.79,537.85 472.74,537.79 474.70,537.73 476.65,537.68 478.60,537.63 480.56,537.59 482.51,537.55 484.46,537.51 486.42,537.47 488.37,537.43 490.32,537.40 492.27,537.36 494.23,537.33 496.18,537.30 498.13,537.28 500.09,537.25 502.04,537.23 503.99,537.22 505.95,537.21 507.90,537.20" fill="none" stroke="#6aa6d8" stroke-width="1.7" stroke-linejoin="round"/>
<text x="324.40" y="549.30" font-size="8.2" text-anchor="start" fill="#7aaedb" color="#7aaedb" textLength="26" lengthAdjust="spacingAndGlyphs" style="stroke-width:0.08px"><tspan font-style="italic">P</tspan> = .02</text>
<text x="324.40" y="558.20" font-size="8.2" text-anchor="start" fill="#b3b592" color="#b3b592" textLength="26" lengthAdjust="spacingAndGlyphs" style="stroke-width:0.08px"><tspan font-style="italic">P</tspan> = .06</text>
<text x="324.40" y="566.70" font-size="8.2" text-anchor="start" fill="#6aa552" color="#6aa552" textLength="30" lengthAdjust="spacingAndGlyphs" style="stroke-width:0.08px"><tspan font-style="italic">P</tspan> = .006</text>
<text x="324.40" y="575.80" font-size="8.2" text-anchor="start" fill="#45305e" color="#45305e" textLength="26" lengthAdjust="spacingAndGlyphs" style="stroke-width:0.08px"><tspan font-style="italic">P</tspan> = .04</text>
<text x="329.20" y="696.50" font-size="10.6" text-anchor="start" fill="#222" color="#222" textLength="170" lengthAdjust="spacingAndGlyphs">Peak CD4<tspan dy="-3.5" font-size="7">+</tspan><tspan dy="3.5">/EGFRt</tspan><tspan dy="-3.5" font-size="7">+</tspan><tspan dy="3.5"> T cells (log</tspan><tspan dy="2.5" font-size="7.5">10</tspan><tspan dy="-2.5"> cells/µl)</tspan></text>
<line x1="44.20" y1="719.00" x2="67.60" y2="719.00" stroke="#8a1838" stroke-width="1.9"/>
<text x="74.50" y="722.90" font-size="10.6" text-anchor="start" fill="#222" color="#222" textLength="70" lengthAdjust="spacingAndGlyphs">Grade ≥2 CRS</text>
<line x1="44.20" y1="736.90" x2="67.60" y2="736.90" stroke="#2f4d78" stroke-width="1.9"/>
<text x="74.50" y="740.80" font-size="10.6" text-anchor="start" fill="#222" color="#222" textLength="62" lengthAdjust="spacingAndGlyphs">Grade ≥3 NT</text>
<line x1="222.30" y1="719.30" x2="246.50" y2="719.30" stroke="#6fa6d4" stroke-width="1.9"/>
<text x="253.80" y="723.20" font-size="10.6" text-anchor="start" fill="#222" color="#222" textLength="75.4" lengthAdjust="spacingAndGlyphs">ALL Marrow CR</text>
<line x1="222.30" y1="736.80" x2="246.50" y2="736.80" stroke="#a6aa86" stroke-width="1.9"/>
<text x="253.80" y="740.70" font-size="10.6" text-anchor="start" fill="#222" color="#222" textLength="75.4" lengthAdjust="spacingAndGlyphs">CLL Marrow CR</text>
<line x1="390.80" y1="719.10" x2="414.60" y2="719.10" stroke="#45285a" stroke-width="1.9"/>
<text x="420.90" y="723.00" font-size="10.6" text-anchor="start" fill="#222" color="#222" textLength="39.3" lengthAdjust="spacingAndGlyphs">NHL CR</text>
<line x1="390.80" y1="736.80" x2="414.60" y2="736.80" stroke="#68a04c" stroke-width="1.9"/>
<text x="420.90" y="740.70" font-size="10.6" text-anchor="start" fill="#222" color="#222" textLength="40.4" lengthAdjust="spacingAndGlyphs">NHL OR</text></svg>
</body></html>
